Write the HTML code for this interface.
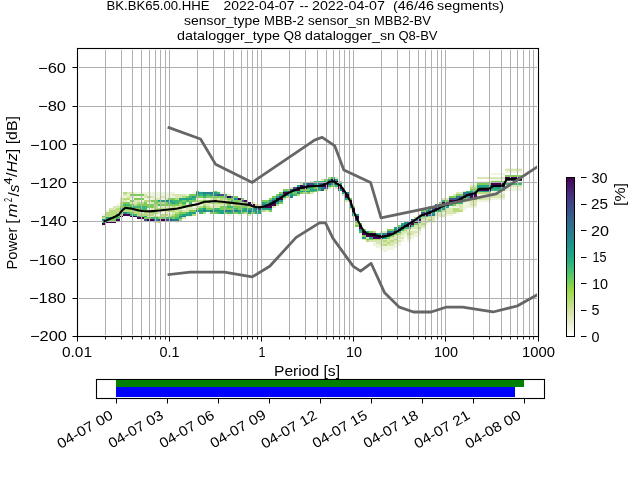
<!DOCTYPE html>
<html><head><meta charset="utf-8"><style>html,body{margin:0;padding:0;background:#fff;overflow:hidden}svg{display:block;will-change:transform}</style></head>
<body><svg width="640" height="480" viewBox="0 0 640 480"><g shape-rendering="crispEdges"><rect x="102" y="214" width="4" height="2" fill="#eef4dd"/><rect x="102" y="216" width="4" height="1" fill="#7ccd55"/><rect x="102" y="217" width="4" height="2" fill="#b6da7c"/><rect x="102" y="219" width="4" height="2" fill="#22a285"/><rect x="102" y="221" width="4" height="2" fill="#3db874"/><rect x="102" y="223" width="4" height="2" fill="#440154"/><rect x="102" y="225" width="4" height="2" fill="#eef4dd"/><rect x="106" y="210" width="3" height="2" fill="#eef4dd"/><rect x="106" y="212" width="3" height="2" fill="#b6da7c"/><rect x="106" y="214" width="3" height="2" fill="#b6da7c"/><rect x="106" y="216" width="3" height="1" fill="#b6da7c"/><rect x="106" y="217" width="3" height="2" fill="#22a285"/><rect x="106" y="219" width="3" height="2" fill="#7ccd55"/><rect x="106" y="221" width="3" height="2" fill="#440154"/><rect x="109" y="208" width="4" height="2" fill="#d8e8b0"/><rect x="109" y="210" width="4" height="2" fill="#b6da7c"/><rect x="109" y="212" width="4" height="2" fill="#b6da7c"/><rect x="109" y="214" width="4" height="2" fill="#b6da7c"/><rect x="109" y="216" width="4" height="1" fill="#b6da7c"/><rect x="109" y="217" width="4" height="2" fill="#22a285"/><rect x="109" y="219" width="4" height="2" fill="#7ccd55"/><rect x="109" y="221" width="4" height="2" fill="#440154"/><rect x="113" y="206" width="3" height="2" fill="#d8e8b0"/><rect x="113" y="208" width="3" height="2" fill="#d8e8b0"/><rect x="113" y="210" width="3" height="2" fill="#b6da7c"/><rect x="113" y="212" width="3" height="2" fill="#b6da7c"/><rect x="113" y="214" width="3" height="2" fill="#b6da7c"/><rect x="113" y="216" width="3" height="1" fill="#22a285"/><rect x="113" y="217" width="3" height="2" fill="#7ccd55"/><rect x="113" y="219" width="3" height="2" fill="#7ccd55"/><rect x="113" y="221" width="3" height="2" fill="#440154"/><rect x="116" y="204" width="4" height="2" fill="#eef4dd"/><rect x="116" y="206" width="4" height="2" fill="#d8e8b0"/><rect x="116" y="208" width="4" height="2" fill="#b6da7c"/><rect x="116" y="210" width="4" height="2" fill="#b6da7c"/><rect x="116" y="212" width="4" height="2" fill="#b6da7c"/><rect x="116" y="214" width="4" height="2" fill="#22a285"/><rect x="116" y="216" width="4" height="1" fill="#7ccd55"/><rect x="116" y="217" width="4" height="2" fill="#3db874"/><rect x="116" y="219" width="4" height="2" fill="#440154"/><rect x="120" y="196" width="3" height="2" fill="#eef4dd"/><rect x="120" y="198" width="3" height="2" fill="#d8e8b0"/><rect x="120" y="200" width="3" height="2" fill="#d8e8b0"/><rect x="120" y="202" width="3" height="2" fill="#b6da7c"/><rect x="120" y="204" width="3" height="2" fill="#b6da7c"/><rect x="120" y="206" width="3" height="2" fill="#7ccd55"/><rect x="120" y="208" width="3" height="2" fill="#3db874"/><rect x="120" y="210" width="3" height="2" fill="#b6da7c"/><rect x="120" y="212" width="3" height="2" fill="#b6da7c"/><rect x="120" y="214" width="3" height="2" fill="#b6da7c"/><rect x="120" y="216" width="3" height="1" fill="#440154"/><rect x="123" y="192" width="4" height="2" fill="#b6da7c"/><rect x="123" y="194" width="4" height="2" fill="#d8e8b0"/><rect x="123" y="196" width="4" height="2" fill="#eef4dd"/><rect x="123" y="198" width="4" height="2" fill="#b6da7c"/><rect x="123" y="200" width="4" height="2" fill="#d8e8b0"/><rect x="123" y="202" width="4" height="2" fill="#7ccd55"/><rect x="123" y="204" width="4" height="2" fill="#3db874"/><rect x="123" y="206" width="4" height="2" fill="#7ccd55"/><rect x="123" y="208" width="4" height="2" fill="#7ccd55"/><rect x="123" y="210" width="4" height="2" fill="#b6da7c"/><rect x="123" y="212" width="4" height="2" fill="#27808e"/><rect x="123" y="214" width="4" height="2" fill="#440154"/><rect x="127" y="192" width="3" height="2" fill="#d8e8b0"/><rect x="127" y="194" width="3" height="2" fill="#eef4dd"/><rect x="127" y="196" width="3" height="2" fill="#d8e8b0"/><rect x="127" y="198" width="3" height="2" fill="#b6da7c"/><rect x="127" y="200" width="3" height="2" fill="#eef4dd"/><rect x="127" y="202" width="3" height="2" fill="#7ccd55"/><rect x="127" y="204" width="3" height="2" fill="#3db874"/><rect x="127" y="206" width="3" height="2" fill="#7ccd55"/><rect x="127" y="208" width="3" height="2" fill="#7ccd55"/><rect x="127" y="210" width="3" height="2" fill="#b6da7c"/><rect x="127" y="212" width="3" height="2" fill="#3db874"/><rect x="127" y="214" width="3" height="2" fill="#440154"/><rect x="127" y="216" width="3" height="1" fill="#eef4dd"/><rect x="130" y="192" width="4" height="2" fill="#d8e8b0"/><rect x="130" y="194" width="4" height="2" fill="#7ccd55"/><rect x="130" y="196" width="4" height="2" fill="#d8e8b0"/><rect x="130" y="198" width="4" height="2" fill="#eef4dd"/><rect x="130" y="200" width="4" height="2" fill="#7ccd55"/><rect x="130" y="202" width="4" height="2" fill="#d8e8b0"/><rect x="130" y="204" width="4" height="2" fill="#7ccd55"/><rect x="130" y="206" width="4" height="2" fill="#3db874"/><rect x="130" y="208" width="4" height="2" fill="#7ccd55"/><rect x="130" y="210" width="4" height="2" fill="#b6da7c"/><rect x="130" y="212" width="4" height="2" fill="#7ccd55"/><rect x="130" y="214" width="4" height="2" fill="#22a285"/><rect x="130" y="216" width="4" height="1" fill="#440154"/><rect x="134" y="192" width="3" height="2" fill="#eef4dd"/><rect x="134" y="194" width="3" height="2" fill="#7ccd55"/><rect x="134" y="196" width="3" height="2" fill="#eef4dd"/><rect x="134" y="198" width="3" height="2" fill="#7ccd55"/><rect x="134" y="200" width="3" height="2" fill="#d8e8b0"/><rect x="134" y="202" width="3" height="2" fill="#d8e8b0"/><rect x="134" y="204" width="3" height="2" fill="#b6da7c"/><rect x="134" y="206" width="3" height="2" fill="#3db874"/><rect x="134" y="208" width="3" height="2" fill="#7ccd55"/><rect x="134" y="210" width="3" height="2" fill="#b6da7c"/><rect x="134" y="212" width="3" height="2" fill="#b6da7c"/><rect x="134" y="214" width="3" height="2" fill="#3db874"/><rect x="134" y="216" width="3" height="1" fill="#440154"/><rect x="137" y="192" width="3" height="2" fill="#eef4dd"/><rect x="137" y="194" width="3" height="2" fill="#7ccd55"/><rect x="137" y="196" width="3" height="2" fill="#eef4dd"/><rect x="137" y="198" width="3" height="2" fill="#7ccd55"/><rect x="137" y="200" width="3" height="2" fill="#d8e8b0"/><rect x="137" y="202" width="3" height="2" fill="#b6da7c"/><rect x="137" y="204" width="3" height="2" fill="#7ccd55"/><rect x="137" y="206" width="3" height="2" fill="#3db874"/><rect x="137" y="208" width="3" height="2" fill="#7ccd55"/><rect x="137" y="210" width="3" height="2" fill="#7ccd55"/><rect x="137" y="212" width="3" height="2" fill="#b6da7c"/><rect x="137" y="214" width="3" height="2" fill="#b6da7c"/><rect x="137" y="216" width="3" height="1" fill="#22a285"/><rect x="137" y="217" width="3" height="2" fill="#440154"/><rect x="140" y="192" width="4" height="2" fill="#eef4dd"/><rect x="140" y="194" width="4" height="2" fill="#7ccd55"/><rect x="140" y="196" width="4" height="2" fill="#eef4dd"/><rect x="140" y="198" width="4" height="2" fill="#7ccd55"/><rect x="140" y="200" width="4" height="2" fill="#eef4dd"/><rect x="140" y="202" width="4" height="2" fill="#b6da7c"/><rect x="140" y="204" width="4" height="2" fill="#7ccd55"/><rect x="140" y="206" width="4" height="2" fill="#3db874"/><rect x="140" y="208" width="4" height="2" fill="#3db874"/><rect x="140" y="210" width="4" height="2" fill="#7ccd55"/><rect x="140" y="212" width="4" height="2" fill="#d8e8b0"/><rect x="140" y="214" width="4" height="2" fill="#b6da7c"/><rect x="140" y="216" width="4" height="1" fill="#7ccd55"/><rect x="140" y="217" width="4" height="2" fill="#440154"/><rect x="140" y="219" width="4" height="2" fill="#eef4dd"/><rect x="144" y="192" width="3" height="2" fill="#eef4dd"/><rect x="144" y="194" width="3" height="2" fill="#d8e8b0"/><rect x="144" y="196" width="3" height="2" fill="#d8e8b0"/><rect x="144" y="198" width="3" height="2" fill="#eef4dd"/><rect x="144" y="200" width="3" height="2" fill="#b6da7c"/><rect x="144" y="202" width="3" height="2" fill="#7ccd55"/><rect x="144" y="204" width="3" height="2" fill="#7ccd55"/><rect x="144" y="206" width="3" height="2" fill="#3db874"/><rect x="144" y="208" width="3" height="2" fill="#3db874"/><rect x="144" y="210" width="3" height="2" fill="#7ccd55"/><rect x="144" y="212" width="3" height="2" fill="#b6da7c"/><rect x="144" y="214" width="3" height="2" fill="#b6da7c"/><rect x="144" y="216" width="3" height="1" fill="#22a285"/><rect x="144" y="217" width="3" height="2" fill="#7ccd55"/><rect x="144" y="219" width="3" height="2" fill="#3b5488"/><rect x="147" y="192" width="4" height="2" fill="#eef4dd"/><rect x="147" y="194" width="4" height="2" fill="#eef4dd"/><rect x="147" y="196" width="4" height="2" fill="#b6da7c"/><rect x="147" y="198" width="4" height="2" fill="#eef4dd"/><rect x="147" y="200" width="4" height="2" fill="#b6da7c"/><rect x="147" y="202" width="4" height="2" fill="#eef4dd"/><rect x="147" y="204" width="4" height="2" fill="#7ccd55"/><rect x="147" y="206" width="4" height="2" fill="#7ccd55"/><rect x="147" y="208" width="4" height="2" fill="#eef4dd"/><rect x="147" y="210" width="4" height="2" fill="#b6da7c"/><rect x="147" y="212" width="4" height="2" fill="#d8e8b0"/><rect x="147" y="214" width="4" height="2" fill="#b6da7c"/><rect x="147" y="216" width="4" height="1" fill="#d8e8b0"/><rect x="147" y="217" width="4" height="2" fill="#7ccd55"/><rect x="147" y="219" width="4" height="2" fill="#440154"/><rect x="151" y="192" width="3" height="2" fill="#eef4dd"/><rect x="151" y="194" width="3" height="2" fill="#eef4dd"/><rect x="151" y="196" width="3" height="2" fill="#d8e8b0"/><rect x="151" y="198" width="3" height="2" fill="#eef4dd"/><rect x="151" y="200" width="3" height="2" fill="#7ccd55"/><rect x="151" y="202" width="3" height="2" fill="#d8e8b0"/><rect x="151" y="204" width="3" height="2" fill="#7ccd55"/><rect x="151" y="206" width="3" height="2" fill="#7ccd55"/><rect x="151" y="208" width="3" height="2" fill="#d8e8b0"/><rect x="151" y="210" width="3" height="2" fill="#b6da7c"/><rect x="151" y="212" width="3" height="2" fill="#b6da7c"/><rect x="151" y="214" width="3" height="2" fill="#b6da7c"/><rect x="151" y="216" width="3" height="1" fill="#d8e8b0"/><rect x="151" y="217" width="3" height="2" fill="#3db874"/><rect x="151" y="219" width="3" height="2" fill="#440154"/><rect x="154" y="192" width="4" height="2" fill="#eef4dd"/><rect x="154" y="194" width="4" height="2" fill="#eef4dd"/><rect x="154" y="196" width="4" height="2" fill="#eef4dd"/><rect x="154" y="198" width="4" height="2" fill="#d8e8b0"/><rect x="154" y="200" width="4" height="2" fill="#7ccd55"/><rect x="154" y="202" width="4" height="2" fill="#7ccd55"/><rect x="154" y="204" width="4" height="2" fill="#b6da7c"/><rect x="154" y="206" width="4" height="2" fill="#b6da7c"/><rect x="154" y="208" width="4" height="2" fill="#b6da7c"/><rect x="154" y="210" width="4" height="2" fill="#d8e8b0"/><rect x="154" y="212" width="4" height="2" fill="#b6da7c"/><rect x="154" y="214" width="4" height="2" fill="#eef4dd"/><rect x="154" y="216" width="4" height="1" fill="#b6da7c"/><rect x="154" y="217" width="4" height="2" fill="#3db874"/><rect x="154" y="219" width="4" height="2" fill="#27808e"/><rect x="154" y="221" width="4" height="2" fill="#d8e8b0"/><rect x="158" y="192" width="3" height="2" fill="#eef4dd"/><rect x="158" y="194" width="3" height="2" fill="#eef4dd"/><rect x="158" y="196" width="3" height="2" fill="#eef4dd"/><rect x="158" y="198" width="3" height="2" fill="#d8e8b0"/><rect x="158" y="200" width="3" height="2" fill="#22a285"/><rect x="158" y="202" width="3" height="2" fill="#b6da7c"/><rect x="158" y="204" width="3" height="2" fill="#3db874"/><rect x="158" y="206" width="3" height="2" fill="#eef4dd"/><rect x="158" y="208" width="3" height="2" fill="#b6da7c"/><rect x="158" y="210" width="3" height="2" fill="#eef4dd"/><rect x="158" y="212" width="3" height="2" fill="#d8e8b0"/><rect x="158" y="214" width="3" height="2" fill="#eef4dd"/><rect x="158" y="216" width="3" height="1" fill="#d8e8b0"/><rect x="158" y="217" width="3" height="2" fill="#7ccd55"/><rect x="158" y="219" width="3" height="2" fill="#3b5488"/><rect x="158" y="221" width="3" height="2" fill="#b6da7c"/><rect x="161" y="192" width="4" height="2" fill="#eef4dd"/><rect x="161" y="194" width="4" height="2" fill="#eef4dd"/><rect x="161" y="196" width="4" height="2" fill="#d8e8b0"/><rect x="161" y="198" width="4" height="2" fill="#eef4dd"/><rect x="161" y="200" width="4" height="2" fill="#22a285"/><rect x="161" y="202" width="4" height="2" fill="#b6da7c"/><rect x="161" y="204" width="4" height="2" fill="#7ccd55"/><rect x="161" y="206" width="4" height="2" fill="#d8e8b0"/><rect x="161" y="208" width="4" height="2" fill="#b6da7c"/><rect x="161" y="210" width="4" height="2" fill="#d8e8b0"/><rect x="161" y="212" width="4" height="2" fill="#eef4dd"/><rect x="161" y="214" width="4" height="2" fill="#b6da7c"/><rect x="161" y="216" width="4" height="1" fill="#b6da7c"/><rect x="161" y="217" width="4" height="2" fill="#7ccd55"/><rect x="161" y="219" width="4" height="2" fill="#440154"/><rect x="165" y="192" width="3" height="2" fill="#eef4dd"/><rect x="165" y="194" width="3" height="2" fill="#eef4dd"/><rect x="165" y="196" width="3" height="2" fill="#eef4dd"/><rect x="165" y="198" width="3" height="2" fill="#d8e8b0"/><rect x="165" y="200" width="3" height="2" fill="#27808e"/><rect x="165" y="202" width="3" height="2" fill="#7ccd55"/><rect x="165" y="204" width="3" height="2" fill="#7ccd55"/><rect x="165" y="206" width="3" height="2" fill="#d8e8b0"/><rect x="165" y="208" width="3" height="2" fill="#b6da7c"/><rect x="165" y="210" width="3" height="2" fill="#d8e8b0"/><rect x="165" y="212" width="3" height="2" fill="#d8e8b0"/><rect x="165" y="214" width="3" height="2" fill="#b6da7c"/><rect x="165" y="216" width="3" height="1" fill="#d8e8b0"/><rect x="165" y="217" width="3" height="2" fill="#3db874"/><rect x="165" y="219" width="3" height="2" fill="#3b5488"/><rect x="168" y="192" width="4" height="2" fill="#eef4dd"/><rect x="168" y="194" width="4" height="2" fill="#eef4dd"/><rect x="168" y="196" width="4" height="2" fill="#eef4dd"/><rect x="168" y="198" width="4" height="2" fill="#7ccd55"/><rect x="168" y="200" width="4" height="2" fill="#22a285"/><rect x="168" y="202" width="4" height="2" fill="#3db874"/><rect x="168" y="204" width="4" height="2" fill="#7ccd55"/><rect x="168" y="206" width="4" height="2" fill="#d8e8b0"/><rect x="168" y="208" width="4" height="2" fill="#b6da7c"/><rect x="168" y="210" width="4" height="2" fill="#b6da7c"/><rect x="168" y="212" width="4" height="2" fill="#eef4dd"/><rect x="168" y="214" width="4" height="2" fill="#d8e8b0"/><rect x="168" y="216" width="4" height="1" fill="#b6da7c"/><rect x="168" y="217" width="4" height="2" fill="#3db874"/><rect x="168" y="219" width="4" height="2" fill="#3b5488"/><rect x="172" y="192" width="3" height="2" fill="#eef4dd"/><rect x="172" y="194" width="3" height="2" fill="#d8e8b0"/><rect x="172" y="196" width="3" height="2" fill="#eef4dd"/><rect x="172" y="198" width="3" height="2" fill="#7ccd55"/><rect x="172" y="200" width="3" height="2" fill="#3db874"/><rect x="172" y="202" width="3" height="2" fill="#22a285"/><rect x="172" y="204" width="3" height="2" fill="#7ccd55"/><rect x="172" y="206" width="3" height="2" fill="#b6da7c"/><rect x="172" y="208" width="3" height="2" fill="#b6da7c"/><rect x="172" y="210" width="3" height="2" fill="#b6da7c"/><rect x="172" y="212" width="3" height="2" fill="#d8e8b0"/><rect x="172" y="214" width="3" height="2" fill="#b6da7c"/><rect x="172" y="216" width="3" height="1" fill="#7ccd55"/><rect x="172" y="217" width="3" height="2" fill="#7ccd55"/><rect x="172" y="219" width="3" height="2" fill="#27808e"/><rect x="175" y="194" width="4" height="2" fill="#d8e8b0"/><rect x="175" y="196" width="4" height="2" fill="#d8e8b0"/><rect x="175" y="198" width="4" height="2" fill="#b6da7c"/><rect x="175" y="200" width="4" height="2" fill="#3db874"/><rect x="175" y="202" width="4" height="2" fill="#3db874"/><rect x="175" y="204" width="4" height="2" fill="#7ccd55"/><rect x="175" y="206" width="4" height="2" fill="#d8e8b0"/><rect x="175" y="208" width="4" height="2" fill="#b6da7c"/><rect x="175" y="210" width="4" height="2" fill="#d8e8b0"/><rect x="175" y="212" width="4" height="2" fill="#b6da7c"/><rect x="175" y="214" width="4" height="2" fill="#7ccd55"/><rect x="175" y="216" width="4" height="1" fill="#7ccd55"/><rect x="175" y="217" width="4" height="2" fill="#3db874"/><rect x="175" y="219" width="4" height="2" fill="#27808e"/><rect x="175" y="221" width="4" height="2" fill="#eef4dd"/><rect x="179" y="194" width="3" height="2" fill="#d8e8b0"/><rect x="179" y="196" width="3" height="2" fill="#d8e8b0"/><rect x="179" y="198" width="3" height="2" fill="#22a285"/><rect x="179" y="200" width="3" height="2" fill="#3db874"/><rect x="179" y="202" width="3" height="2" fill="#7ccd55"/><rect x="179" y="204" width="3" height="2" fill="#b6da7c"/><rect x="179" y="206" width="3" height="2" fill="#b6da7c"/><rect x="179" y="208" width="3" height="2" fill="#d8e8b0"/><rect x="179" y="210" width="3" height="2" fill="#b6da7c"/><rect x="179" y="212" width="3" height="2" fill="#7ccd55"/><rect x="179" y="214" width="3" height="2" fill="#3db874"/><rect x="179" y="216" width="3" height="1" fill="#27808e"/><rect x="179" y="217" width="3" height="2" fill="#3db874"/><rect x="179" y="219" width="3" height="2" fill="#b6da7c"/><rect x="182" y="194" width="4" height="2" fill="#d8e8b0"/><rect x="182" y="196" width="4" height="2" fill="#b6da7c"/><rect x="182" y="198" width="4" height="2" fill="#22a285"/><rect x="182" y="200" width="4" height="2" fill="#7ccd55"/><rect x="182" y="202" width="4" height="2" fill="#3db874"/><rect x="182" y="204" width="4" height="2" fill="#7ccd55"/><rect x="182" y="206" width="4" height="2" fill="#b6da7c"/><rect x="182" y="208" width="4" height="2" fill="#eef4dd"/><rect x="182" y="210" width="4" height="2" fill="#d8e8b0"/><rect x="182" y="212" width="4" height="2" fill="#7ccd55"/><rect x="182" y="214" width="4" height="2" fill="#22a285"/><rect x="182" y="216" width="4" height="1" fill="#27808e"/><rect x="182" y="217" width="4" height="2" fill="#d8e8b0"/><rect x="186" y="194" width="3" height="2" fill="#eef4dd"/><rect x="186" y="196" width="3" height="2" fill="#7ccd55"/><rect x="186" y="198" width="3" height="2" fill="#22a285"/><rect x="186" y="200" width="3" height="2" fill="#3db874"/><rect x="186" y="202" width="3" height="2" fill="#d8e8b0"/><rect x="186" y="204" width="3" height="2" fill="#eef4dd"/><rect x="186" y="206" width="3" height="2" fill="#b6da7c"/><rect x="186" y="208" width="3" height="2" fill="#d8e8b0"/><rect x="186" y="210" width="3" height="2" fill="#d8e8b0"/><rect x="186" y="212" width="3" height="2" fill="#3db874"/><rect x="186" y="214" width="3" height="2" fill="#22a285"/><rect x="186" y="216" width="3" height="1" fill="#eef4dd"/><rect x="189" y="194" width="3" height="2" fill="#7ccd55"/><rect x="189" y="196" width="3" height="2" fill="#3db874"/><rect x="189" y="198" width="3" height="2" fill="#22a285"/><rect x="189" y="200" width="3" height="2" fill="#7ccd55"/><rect x="189" y="202" width="3" height="2" fill="#3db874"/><rect x="189" y="204" width="3" height="2" fill="#b6da7c"/><rect x="189" y="206" width="3" height="2" fill="#d8e8b0"/><rect x="189" y="208" width="3" height="2" fill="#d8e8b0"/><rect x="189" y="210" width="3" height="2" fill="#7ccd55"/><rect x="189" y="212" width="3" height="2" fill="#22a285"/><rect x="189" y="214" width="3" height="2" fill="#22a285"/><rect x="189" y="216" width="3" height="1" fill="#eef4dd"/><rect x="192" y="192" width="4" height="2" fill="#eef4dd"/><rect x="192" y="194" width="4" height="2" fill="#7ccd55"/><rect x="192" y="196" width="4" height="2" fill="#22a285"/><rect x="192" y="198" width="4" height="2" fill="#3db874"/><rect x="192" y="200" width="4" height="2" fill="#7ccd55"/><rect x="192" y="202" width="4" height="2" fill="#eef4dd"/><rect x="192" y="204" width="4" height="2" fill="#b6da7c"/><rect x="192" y="206" width="4" height="2" fill="#eef4dd"/><rect x="192" y="208" width="4" height="2" fill="#d8e8b0"/><rect x="192" y="210" width="4" height="2" fill="#7ccd55"/><rect x="192" y="212" width="4" height="2" fill="#22a285"/><rect x="192" y="214" width="4" height="2" fill="#b6da7c"/><rect x="196" y="191" width="3" height="1" fill="#3db874"/><rect x="196" y="192" width="3" height="2" fill="#27808e"/><rect x="196" y="194" width="3" height="2" fill="#22a285"/><rect x="196" y="196" width="3" height="2" fill="#7ccd55"/><rect x="196" y="198" width="3" height="2" fill="#eef4dd"/><rect x="196" y="200" width="3" height="2" fill="#b6da7c"/><rect x="196" y="202" width="3" height="2" fill="#d8e8b0"/><rect x="196" y="204" width="3" height="2" fill="#d8e8b0"/><rect x="196" y="206" width="3" height="2" fill="#d8e8b0"/><rect x="196" y="208" width="3" height="2" fill="#7ccd55"/><rect x="196" y="210" width="3" height="2" fill="#27808e"/><rect x="199" y="191" width="4" height="1" fill="#eef4dd"/><rect x="199" y="192" width="4" height="2" fill="#22a285"/><rect x="199" y="194" width="4" height="2" fill="#3db874"/><rect x="199" y="196" width="4" height="2" fill="#7ccd55"/><rect x="199" y="198" width="4" height="2" fill="#eef4dd"/><rect x="199" y="200" width="4" height="2" fill="#b6da7c"/><rect x="199" y="202" width="4" height="2" fill="#d8e8b0"/><rect x="199" y="204" width="4" height="2" fill="#eef4dd"/><rect x="199" y="206" width="4" height="2" fill="#b6da7c"/><rect x="199" y="208" width="4" height="2" fill="#3db874"/><rect x="199" y="210" width="4" height="2" fill="#22a285"/><rect x="199" y="212" width="4" height="2" fill="#3db874"/><rect x="203" y="192" width="3" height="2" fill="#27808e"/><rect x="203" y="194" width="3" height="2" fill="#22a285"/><rect x="203" y="196" width="3" height="2" fill="#3db874"/><rect x="203" y="198" width="3" height="2" fill="#d8e8b0"/><rect x="203" y="200" width="3" height="2" fill="#7ccd55"/><rect x="203" y="202" width="3" height="2" fill="#d8e8b0"/><rect x="203" y="204" width="3" height="2" fill="#b6da7c"/><rect x="203" y="206" width="3" height="2" fill="#7ccd55"/><rect x="203" y="208" width="3" height="2" fill="#22a285"/><rect x="203" y="210" width="3" height="2" fill="#27808e"/><rect x="203" y="212" width="3" height="2" fill="#b6da7c"/><rect x="206" y="192" width="4" height="2" fill="#27808e"/><rect x="206" y="194" width="4" height="2" fill="#3db874"/><rect x="206" y="196" width="4" height="2" fill="#7ccd55"/><rect x="206" y="198" width="4" height="2" fill="#eef4dd"/><rect x="206" y="200" width="4" height="2" fill="#7ccd55"/><rect x="206" y="202" width="4" height="2" fill="#d8e8b0"/><rect x="206" y="204" width="4" height="2" fill="#d8e8b0"/><rect x="206" y="206" width="4" height="2" fill="#b6da7c"/><rect x="206" y="208" width="4" height="2" fill="#7ccd55"/><rect x="206" y="210" width="4" height="2" fill="#22a285"/><rect x="210" y="191" width="3" height="1" fill="#eef4dd"/><rect x="210" y="192" width="3" height="2" fill="#27808e"/><rect x="210" y="194" width="3" height="2" fill="#22a285"/><rect x="210" y="196" width="3" height="2" fill="#7ccd55"/><rect x="210" y="198" width="3" height="2" fill="#d8e8b0"/><rect x="210" y="200" width="3" height="2" fill="#d8e8b0"/><rect x="210" y="202" width="3" height="2" fill="#b6da7c"/><rect x="210" y="204" width="3" height="2" fill="#eef4dd"/><rect x="210" y="206" width="3" height="2" fill="#d8e8b0"/><rect x="210" y="208" width="3" height="2" fill="#7ccd55"/><rect x="210" y="210" width="3" height="2" fill="#27808e"/><rect x="210" y="212" width="3" height="2" fill="#7ccd55"/><rect x="213" y="191" width="4" height="1" fill="#7ccd55"/><rect x="213" y="192" width="4" height="2" fill="#22a285"/><rect x="213" y="194" width="4" height="2" fill="#27808e"/><rect x="213" y="196" width="4" height="2" fill="#7ccd55"/><rect x="213" y="198" width="4" height="2" fill="#b6da7c"/><rect x="213" y="200" width="4" height="2" fill="#eef4dd"/><rect x="213" y="202" width="4" height="2" fill="#b6da7c"/><rect x="213" y="204" width="4" height="2" fill="#d8e8b0"/><rect x="213" y="206" width="4" height="2" fill="#d8e8b0"/><rect x="213" y="208" width="4" height="2" fill="#3db874"/><rect x="213" y="210" width="4" height="2" fill="#22a285"/><rect x="213" y="212" width="4" height="2" fill="#7ccd55"/><rect x="217" y="191" width="3" height="1" fill="#eef4dd"/><rect x="217" y="192" width="3" height="2" fill="#3db874"/><rect x="217" y="194" width="3" height="2" fill="#3b5488"/><rect x="217" y="196" width="3" height="2" fill="#7ccd55"/><rect x="217" y="198" width="3" height="2" fill="#d8e8b0"/><rect x="217" y="200" width="3" height="2" fill="#d8e8b0"/><rect x="217" y="202" width="3" height="2" fill="#b6da7c"/><rect x="217" y="204" width="3" height="2" fill="#d8e8b0"/><rect x="217" y="206" width="3" height="2" fill="#d8e8b0"/><rect x="217" y="208" width="3" height="2" fill="#3db874"/><rect x="217" y="210" width="3" height="2" fill="#22a285"/><rect x="217" y="212" width="3" height="2" fill="#3db874"/><rect x="220" y="192" width="4" height="2" fill="#eef4dd"/><rect x="220" y="194" width="4" height="2" fill="#3b5488"/><rect x="220" y="196" width="4" height="2" fill="#7ccd55"/><rect x="220" y="198" width="4" height="2" fill="#b6da7c"/><rect x="220" y="200" width="4" height="2" fill="#d8e8b0"/><rect x="220" y="202" width="4" height="2" fill="#b6da7c"/><rect x="220" y="204" width="4" height="2" fill="#d8e8b0"/><rect x="220" y="206" width="4" height="2" fill="#7ccd55"/><rect x="220" y="208" width="4" height="2" fill="#7ccd55"/><rect x="220" y="210" width="4" height="2" fill="#22a285"/><rect x="220" y="212" width="4" height="2" fill="#22a285"/><rect x="224" y="192" width="3" height="2" fill="#eef4dd"/><rect x="224" y="194" width="3" height="2" fill="#3db874"/><rect x="224" y="196" width="3" height="2" fill="#3db874"/><rect x="224" y="198" width="3" height="2" fill="#b6da7c"/><rect x="224" y="200" width="3" height="2" fill="#d8e8b0"/><rect x="224" y="202" width="3" height="2" fill="#b6da7c"/><rect x="224" y="204" width="3" height="2" fill="#d8e8b0"/><rect x="224" y="206" width="3" height="2" fill="#7ccd55"/><rect x="224" y="208" width="3" height="2" fill="#7ccd55"/><rect x="224" y="210" width="3" height="2" fill="#27808e"/><rect x="224" y="212" width="3" height="2" fill="#7ccd55"/><rect x="227" y="194" width="4" height="2" fill="#d8e8b0"/><rect x="227" y="196" width="4" height="2" fill="#440154"/><rect x="227" y="198" width="4" height="2" fill="#7ccd55"/><rect x="227" y="200" width="4" height="2" fill="#b6da7c"/><rect x="227" y="202" width="4" height="2" fill="#b6da7c"/><rect x="227" y="204" width="4" height="2" fill="#7ccd55"/><rect x="227" y="206" width="4" height="2" fill="#3db874"/><rect x="227" y="208" width="4" height="2" fill="#7ccd55"/><rect x="227" y="210" width="4" height="2" fill="#27808e"/><rect x="227" y="212" width="4" height="2" fill="#3db874"/><rect x="227" y="214" width="4" height="2" fill="#eef4dd"/><rect x="231" y="196" width="3" height="2" fill="#27808e"/><rect x="231" y="198" width="3" height="2" fill="#7ccd55"/><rect x="231" y="200" width="3" height="2" fill="#3db874"/><rect x="231" y="202" width="3" height="2" fill="#b6da7c"/><rect x="231" y="204" width="3" height="2" fill="#d8e8b0"/><rect x="231" y="206" width="3" height="2" fill="#3db874"/><rect x="231" y="208" width="3" height="2" fill="#7ccd55"/><rect x="231" y="210" width="3" height="2" fill="#22a285"/><rect x="231" y="212" width="3" height="2" fill="#3db874"/><rect x="234" y="196" width="4" height="2" fill="#7ccd55"/><rect x="234" y="198" width="4" height="2" fill="#27808e"/><rect x="234" y="200" width="4" height="2" fill="#7ccd55"/><rect x="234" y="202" width="4" height="2" fill="#b6da7c"/><rect x="234" y="204" width="4" height="2" fill="#b6da7c"/><rect x="234" y="206" width="4" height="2" fill="#7ccd55"/><rect x="234" y="208" width="4" height="2" fill="#3db874"/><rect x="234" y="210" width="4" height="2" fill="#27808e"/><rect x="234" y="212" width="4" height="2" fill="#7ccd55"/><rect x="238" y="198" width="3" height="2" fill="#440154"/><rect x="238" y="200" width="3" height="2" fill="#7ccd55"/><rect x="238" y="202" width="3" height="2" fill="#b6da7c"/><rect x="238" y="204" width="3" height="2" fill="#b6da7c"/><rect x="238" y="206" width="3" height="2" fill="#7ccd55"/><rect x="238" y="208" width="3" height="2" fill="#7ccd55"/><rect x="238" y="210" width="3" height="2" fill="#22a285"/><rect x="238" y="212" width="3" height="2" fill="#3db874"/><rect x="238" y="214" width="3" height="2" fill="#eef4dd"/><rect x="241" y="198" width="3" height="2" fill="#7ccd55"/><rect x="241" y="200" width="3" height="2" fill="#3b5488"/><rect x="241" y="202" width="3" height="2" fill="#b6da7c"/><rect x="241" y="204" width="3" height="2" fill="#b6da7c"/><rect x="241" y="206" width="3" height="2" fill="#7ccd55"/><rect x="241" y="208" width="3" height="2" fill="#3db874"/><rect x="241" y="210" width="3" height="2" fill="#22a285"/><rect x="241" y="212" width="3" height="2" fill="#7ccd55"/><rect x="244" y="200" width="4" height="2" fill="#440154"/><rect x="244" y="202" width="4" height="2" fill="#7ccd55"/><rect x="244" y="204" width="4" height="2" fill="#b6da7c"/><rect x="244" y="206" width="4" height="2" fill="#7ccd55"/><rect x="244" y="208" width="4" height="2" fill="#22a285"/><rect x="244" y="210" width="4" height="2" fill="#22a285"/><rect x="244" y="212" width="4" height="2" fill="#b6da7c"/><rect x="248" y="202" width="3" height="2" fill="#440154"/><rect x="248" y="204" width="3" height="2" fill="#3db874"/><rect x="248" y="206" width="3" height="2" fill="#b6da7c"/><rect x="248" y="208" width="3" height="2" fill="#3db874"/><rect x="248" y="210" width="3" height="2" fill="#27808e"/><rect x="248" y="212" width="3" height="2" fill="#22a285"/><rect x="248" y="214" width="3" height="2" fill="#d8e8b0"/><rect x="251" y="202" width="4" height="2" fill="#d8e8b0"/><rect x="251" y="204" width="4" height="2" fill="#440154"/><rect x="251" y="206" width="4" height="2" fill="#b6da7c"/><rect x="251" y="208" width="4" height="2" fill="#22a285"/><rect x="251" y="210" width="4" height="2" fill="#22a285"/><rect x="251" y="212" width="4" height="2" fill="#7ccd55"/><rect x="255" y="204" width="3" height="2" fill="#b6da7c"/><rect x="255" y="206" width="3" height="2" fill="#440154"/><rect x="255" y="208" width="3" height="2" fill="#27808e"/><rect x="255" y="210" width="3" height="2" fill="#22a285"/><rect x="255" y="212" width="3" height="2" fill="#22a285"/><rect x="258" y="204" width="4" height="2" fill="#d8e8b0"/><rect x="258" y="206" width="4" height="2" fill="#440154"/><rect x="258" y="208" width="4" height="2" fill="#3b5488"/><rect x="258" y="210" width="4" height="2" fill="#22a285"/><rect x="258" y="212" width="4" height="2" fill="#22a285"/><rect x="262" y="200" width="3" height="2" fill="#7ccd55"/><rect x="262" y="202" width="3" height="2" fill="#22a285"/><rect x="262" y="204" width="3" height="2" fill="#27808e"/><rect x="262" y="206" width="3" height="2" fill="#3b5488"/><rect x="262" y="208" width="3" height="2" fill="#22a285"/><rect x="262" y="210" width="3" height="2" fill="#b6da7c"/><rect x="265" y="200" width="4" height="2" fill="#7ccd55"/><rect x="265" y="202" width="4" height="2" fill="#3db874"/><rect x="265" y="204" width="4" height="2" fill="#3b5488"/><rect x="265" y="206" width="4" height="2" fill="#440154"/><rect x="265" y="208" width="4" height="2" fill="#22a285"/><rect x="265" y="210" width="4" height="2" fill="#d8e8b0"/><rect x="269" y="198" width="3" height="2" fill="#7ccd55"/><rect x="269" y="200" width="3" height="2" fill="#22a285"/><rect x="269" y="202" width="3" height="2" fill="#27808e"/><rect x="269" y="204" width="3" height="2" fill="#440154"/><rect x="269" y="206" width="3" height="2" fill="#440154"/><rect x="269" y="208" width="3" height="2" fill="#22a285"/><rect x="269" y="210" width="3" height="2" fill="#7ccd55"/><rect x="272" y="196" width="4" height="2" fill="#7ccd55"/><rect x="272" y="198" width="4" height="2" fill="#22a285"/><rect x="272" y="200" width="4" height="2" fill="#3b5488"/><rect x="272" y="202" width="4" height="2" fill="#440154"/><rect x="272" y="204" width="4" height="2" fill="#440154"/><rect x="272" y="206" width="4" height="2" fill="#d8e8b0"/><rect x="276" y="194" width="3" height="2" fill="#7ccd55"/><rect x="276" y="196" width="3" height="2" fill="#22a285"/><rect x="276" y="198" width="3" height="2" fill="#440154"/><rect x="276" y="200" width="3" height="2" fill="#3b5488"/><rect x="276" y="202" width="3" height="2" fill="#22a285"/><rect x="276" y="204" width="3" height="2" fill="#b6da7c"/><rect x="279" y="192" width="4" height="2" fill="#7ccd55"/><rect x="279" y="194" width="4" height="2" fill="#22a285"/><rect x="279" y="196" width="4" height="2" fill="#3b5488"/><rect x="279" y="198" width="4" height="2" fill="#440154"/><rect x="279" y="200" width="4" height="2" fill="#22a285"/><rect x="279" y="202" width="4" height="2" fill="#7ccd55"/><rect x="283" y="189" width="3" height="2" fill="#7ccd55"/><rect x="283" y="191" width="3" height="1" fill="#22a285"/><rect x="283" y="192" width="3" height="2" fill="#440154"/><rect x="283" y="194" width="3" height="2" fill="#3b5488"/><rect x="283" y="196" width="3" height="2" fill="#3db874"/><rect x="283" y="198" width="3" height="2" fill="#d8e8b0"/><rect x="286" y="189" width="4" height="2" fill="#7ccd55"/><rect x="286" y="191" width="4" height="1" fill="#27808e"/><rect x="286" y="192" width="4" height="2" fill="#440154"/><rect x="286" y="194" width="4" height="2" fill="#22a285"/><rect x="286" y="196" width="4" height="2" fill="#b6da7c"/><rect x="290" y="187" width="3" height="2" fill="#d8e8b0"/><rect x="290" y="189" width="3" height="2" fill="#3b5488"/><rect x="290" y="191" width="3" height="1" fill="#440154"/><rect x="290" y="192" width="3" height="2" fill="#3db874"/><rect x="290" y="194" width="3" height="2" fill="#22a285"/><rect x="290" y="196" width="3" height="2" fill="#27808e"/><rect x="293" y="187" width="4" height="2" fill="#3b5488"/><rect x="293" y="189" width="4" height="2" fill="#440154"/><rect x="293" y="191" width="4" height="1" fill="#3db874"/><rect x="293" y="192" width="4" height="2" fill="#7ccd55"/><rect x="293" y="194" width="4" height="2" fill="#3db874"/><rect x="297" y="185" width="3" height="2" fill="#22a285"/><rect x="297" y="187" width="3" height="2" fill="#440154"/><rect x="297" y="189" width="3" height="2" fill="#440154"/><rect x="297" y="191" width="3" height="1" fill="#3db874"/><rect x="297" y="192" width="3" height="2" fill="#27808e"/><rect x="297" y="194" width="3" height="2" fill="#b6da7c"/><rect x="300" y="183" width="3" height="2" fill="#d8e8b0"/><rect x="300" y="185" width="3" height="2" fill="#440154"/><rect x="300" y="187" width="3" height="2" fill="#440154"/><rect x="300" y="189" width="3" height="2" fill="#7ccd55"/><rect x="300" y="191" width="3" height="1" fill="#22a285"/><rect x="300" y="192" width="3" height="2" fill="#7ccd55"/><rect x="303" y="183" width="4" height="2" fill="#22a285"/><rect x="303" y="185" width="4" height="2" fill="#3b5488"/><rect x="303" y="187" width="4" height="2" fill="#440154"/><rect x="303" y="189" width="4" height="2" fill="#7ccd55"/><rect x="303" y="191" width="4" height="1" fill="#22a285"/><rect x="303" y="192" width="4" height="2" fill="#b6da7c"/><rect x="307" y="183" width="3" height="2" fill="#3b5488"/><rect x="307" y="185" width="3" height="2" fill="#440154"/><rect x="307" y="187" width="3" height="2" fill="#3db874"/><rect x="307" y="189" width="3" height="2" fill="#7ccd55"/><rect x="307" y="191" width="3" height="1" fill="#22a285"/><rect x="307" y="192" width="3" height="2" fill="#7ccd55"/><rect x="310" y="181" width="4" height="2" fill="#d8e8b0"/><rect x="310" y="183" width="4" height="2" fill="#3b5488"/><rect x="310" y="185" width="4" height="2" fill="#440154"/><rect x="310" y="187" width="4" height="2" fill="#3db874"/><rect x="310" y="189" width="4" height="2" fill="#22a285"/><rect x="310" y="191" width="4" height="1" fill="#3db874"/><rect x="310" y="192" width="4" height="2" fill="#d8e8b0"/><rect x="314" y="181" width="3" height="2" fill="#3db874"/><rect x="314" y="183" width="3" height="2" fill="#22a285"/><rect x="314" y="185" width="3" height="2" fill="#440154"/><rect x="314" y="187" width="3" height="2" fill="#7ccd55"/><rect x="314" y="189" width="3" height="2" fill="#22a285"/><rect x="314" y="191" width="3" height="1" fill="#7ccd55"/><rect x="317" y="181" width="4" height="2" fill="#3db874"/><rect x="317" y="183" width="4" height="2" fill="#27808e"/><rect x="317" y="185" width="4" height="2" fill="#440154"/><rect x="317" y="187" width="4" height="2" fill="#22a285"/><rect x="317" y="189" width="4" height="2" fill="#3db874"/><rect x="317" y="191" width="4" height="1" fill="#eef4dd"/><rect x="321" y="179" width="3" height="2" fill="#d8e8b0"/><rect x="321" y="181" width="3" height="2" fill="#3db874"/><rect x="321" y="183" width="3" height="2" fill="#3b5488"/><rect x="321" y="185" width="3" height="2" fill="#440154"/><rect x="321" y="187" width="3" height="2" fill="#27808e"/><rect x="321" y="189" width="3" height="2" fill="#3b5488"/><rect x="324" y="179" width="4" height="2" fill="#7ccd55"/><rect x="324" y="181" width="4" height="2" fill="#22a285"/><rect x="324" y="183" width="4" height="2" fill="#440154"/><rect x="324" y="185" width="4" height="2" fill="#440154"/><rect x="324" y="187" width="4" height="2" fill="#3b5488"/><rect x="324" y="189" width="4" height="2" fill="#d8e8b0"/><rect x="328" y="177" width="3" height="2" fill="#b6da7c"/><rect x="328" y="179" width="3" height="2" fill="#22a285"/><rect x="328" y="181" width="3" height="2" fill="#440154"/><rect x="328" y="183" width="3" height="2" fill="#3b5488"/><rect x="328" y="185" width="3" height="2" fill="#3db874"/><rect x="328" y="187" width="3" height="2" fill="#d8e8b0"/><rect x="331" y="177" width="4" height="2" fill="#3db874"/><rect x="331" y="179" width="4" height="2" fill="#440154"/><rect x="331" y="181" width="4" height="2" fill="#440154"/><rect x="331" y="183" width="4" height="2" fill="#22a285"/><rect x="331" y="185" width="4" height="2" fill="#7ccd55"/><rect x="335" y="177" width="3" height="2" fill="#d8e8b0"/><rect x="335" y="179" width="3" height="2" fill="#22a285"/><rect x="335" y="181" width="3" height="2" fill="#440154"/><rect x="335" y="183" width="3" height="2" fill="#3b5488"/><rect x="335" y="185" width="3" height="2" fill="#3db874"/><rect x="335" y="187" width="3" height="2" fill="#d8e8b0"/><rect x="338" y="181" width="4" height="2" fill="#b6da7c"/><rect x="338" y="183" width="4" height="2" fill="#22a285"/><rect x="338" y="185" width="4" height="2" fill="#440154"/><rect x="338" y="187" width="4" height="2" fill="#440154"/><rect x="338" y="189" width="4" height="2" fill="#27808e"/><rect x="338" y="191" width="4" height="1" fill="#eef4dd"/><rect x="342" y="187" width="3" height="2" fill="#d8e8b0"/><rect x="342" y="189" width="3" height="2" fill="#440154"/><rect x="342" y="191" width="3" height="1" fill="#440154"/><rect x="342" y="192" width="3" height="2" fill="#22a285"/><rect x="342" y="194" width="3" height="2" fill="#d8e8b0"/><rect x="345" y="192" width="4" height="2" fill="#27808e"/><rect x="345" y="194" width="4" height="2" fill="#440154"/><rect x="345" y="196" width="4" height="2" fill="#440154"/><rect x="345" y="198" width="4" height="2" fill="#22a285"/><rect x="345" y="200" width="4" height="2" fill="#d8e8b0"/><rect x="349" y="198" width="3" height="2" fill="#7ccd55"/><rect x="349" y="200" width="3" height="2" fill="#440154"/><rect x="349" y="202" width="3" height="2" fill="#440154"/><rect x="349" y="204" width="3" height="2" fill="#3b5488"/><rect x="349" y="206" width="3" height="2" fill="#22a285"/><rect x="349" y="208" width="3" height="2" fill="#d8e8b0"/><rect x="352" y="206" width="3" height="2" fill="#7ccd55"/><rect x="352" y="208" width="3" height="2" fill="#440154"/><rect x="352" y="210" width="3" height="2" fill="#440154"/><rect x="352" y="212" width="3" height="2" fill="#22a285"/><rect x="352" y="214" width="3" height="2" fill="#22a285"/><rect x="352" y="216" width="3" height="1" fill="#d8e8b0"/><rect x="355" y="214" width="4" height="2" fill="#22a285"/><rect x="355" y="216" width="4" height="1" fill="#440154"/><rect x="355" y="217" width="4" height="2" fill="#440154"/><rect x="355" y="219" width="4" height="2" fill="#3b5488"/><rect x="355" y="221" width="4" height="2" fill="#7ccd55"/><rect x="355" y="223" width="4" height="2" fill="#b6da7c"/><rect x="355" y="225" width="4" height="2" fill="#7ccd55"/><rect x="359" y="223" width="3" height="2" fill="#7ccd55"/><rect x="359" y="225" width="3" height="2" fill="#440154"/><rect x="359" y="227" width="3" height="2" fill="#440154"/><rect x="359" y="229" width="3" height="2" fill="#22a285"/><rect x="359" y="231" width="3" height="2" fill="#3db874"/><rect x="359" y="233" width="3" height="2" fill="#eef4dd"/><rect x="362" y="229" width="4" height="2" fill="#7ccd55"/><rect x="362" y="231" width="4" height="2" fill="#440154"/><rect x="362" y="233" width="4" height="2" fill="#440154"/><rect x="362" y="235" width="4" height="2" fill="#7ccd55"/><rect x="362" y="237" width="4" height="2" fill="#22a285"/><rect x="362" y="239" width="4" height="1" fill="#d8e8b0"/><rect x="366" y="231" width="3" height="2" fill="#22a285"/><rect x="366" y="233" width="3" height="2" fill="#440154"/><rect x="366" y="235" width="3" height="2" fill="#440154"/><rect x="366" y="237" width="3" height="2" fill="#d8e8b0"/><rect x="366" y="239" width="3" height="1" fill="#7ccd55"/><rect x="366" y="240" width="3" height="2" fill="#b6da7c"/><rect x="369" y="231" width="4" height="2" fill="#7ccd55"/><rect x="369" y="233" width="4" height="2" fill="#440154"/><rect x="369" y="235" width="4" height="2" fill="#440154"/><rect x="369" y="237" width="4" height="2" fill="#22a285"/><rect x="369" y="239" width="4" height="1" fill="#7ccd55"/><rect x="369" y="240" width="4" height="2" fill="#d8e8b0"/><rect x="373" y="231" width="3" height="2" fill="#b6da7c"/><rect x="373" y="233" width="3" height="2" fill="#440154"/><rect x="373" y="235" width="3" height="2" fill="#440154"/><rect x="373" y="237" width="3" height="2" fill="#440154"/><rect x="373" y="239" width="3" height="1" fill="#b6da7c"/><rect x="373" y="240" width="3" height="2" fill="#d8e8b0"/><rect x="373" y="242" width="3" height="2" fill="#eef4dd"/><rect x="373" y="244" width="3" height="2" fill="#eef4dd"/><rect x="376" y="233" width="4" height="2" fill="#22a285"/><rect x="376" y="235" width="4" height="2" fill="#440154"/><rect x="376" y="237" width="4" height="2" fill="#440154"/><rect x="376" y="239" width="4" height="1" fill="#b6da7c"/><rect x="376" y="240" width="4" height="2" fill="#d8e8b0"/><rect x="376" y="242" width="4" height="2" fill="#d8e8b0"/><rect x="376" y="244" width="4" height="2" fill="#eef4dd"/><rect x="376" y="246" width="4" height="2" fill="#eef4dd"/><rect x="380" y="231" width="3" height="2" fill="#d8e8b0"/><rect x="380" y="233" width="3" height="2" fill="#22a285"/><rect x="380" y="235" width="3" height="2" fill="#440154"/><rect x="380" y="237" width="3" height="2" fill="#3b5488"/><rect x="380" y="239" width="3" height="1" fill="#b6da7c"/><rect x="380" y="240" width="3" height="2" fill="#d8e8b0"/><rect x="380" y="242" width="3" height="2" fill="#d8e8b0"/><rect x="380" y="244" width="3" height="2" fill="#d8e8b0"/><rect x="380" y="246" width="3" height="2" fill="#eef4dd"/><rect x="380" y="248" width="3" height="2" fill="#eef4dd"/><rect x="383" y="231" width="4" height="2" fill="#d8e8b0"/><rect x="383" y="233" width="4" height="2" fill="#27808e"/><rect x="383" y="235" width="4" height="2" fill="#440154"/><rect x="383" y="237" width="4" height="2" fill="#22a285"/><rect x="383" y="239" width="4" height="1" fill="#d8e8b0"/><rect x="383" y="240" width="4" height="2" fill="#b6da7c"/><rect x="383" y="242" width="4" height="2" fill="#d8e8b0"/><rect x="383" y="244" width="4" height="2" fill="#b6da7c"/><rect x="383" y="246" width="4" height="2" fill="#eef4dd"/><rect x="383" y="248" width="4" height="2" fill="#eef4dd"/><rect x="383" y="250" width="4" height="2" fill="#eef4dd"/><rect x="387" y="229" width="3" height="2" fill="#7ccd55"/><rect x="387" y="231" width="3" height="2" fill="#27808e"/><rect x="387" y="233" width="3" height="2" fill="#440154"/><rect x="387" y="235" width="3" height="2" fill="#3db874"/><rect x="387" y="237" width="3" height="2" fill="#7ccd55"/><rect x="387" y="239" width="3" height="1" fill="#d8e8b0"/><rect x="387" y="240" width="3" height="2" fill="#d8e8b0"/><rect x="387" y="242" width="3" height="2" fill="#b6da7c"/><rect x="387" y="244" width="3" height="2" fill="#d8e8b0"/><rect x="387" y="246" width="3" height="2" fill="#eef4dd"/><rect x="387" y="248" width="3" height="2" fill="#eef4dd"/><rect x="390" y="229" width="4" height="2" fill="#7ccd55"/><rect x="390" y="231" width="4" height="2" fill="#27808e"/><rect x="390" y="233" width="4" height="2" fill="#440154"/><rect x="390" y="235" width="4" height="2" fill="#7ccd55"/><rect x="390" y="237" width="4" height="2" fill="#d8e8b0"/><rect x="390" y="239" width="4" height="1" fill="#d8e8b0"/><rect x="390" y="240" width="4" height="2" fill="#b6da7c"/><rect x="390" y="242" width="4" height="2" fill="#d8e8b0"/><rect x="390" y="244" width="4" height="2" fill="#d8e8b0"/><rect x="390" y="246" width="4" height="2" fill="#eef4dd"/><rect x="390" y="248" width="4" height="2" fill="#eef4dd"/><rect x="394" y="227" width="3" height="2" fill="#22a285"/><rect x="394" y="229" width="3" height="2" fill="#27808e"/><rect x="394" y="231" width="3" height="2" fill="#440154"/><rect x="394" y="233" width="3" height="2" fill="#7ccd55"/><rect x="394" y="235" width="3" height="2" fill="#d8e8b0"/><rect x="394" y="237" width="3" height="2" fill="#d8e8b0"/><rect x="394" y="239" width="3" height="1" fill="#b6da7c"/><rect x="394" y="240" width="3" height="2" fill="#d8e8b0"/><rect x="394" y="242" width="3" height="2" fill="#d8e8b0"/><rect x="394" y="244" width="3" height="2" fill="#eef4dd"/><rect x="394" y="246" width="3" height="2" fill="#eef4dd"/><rect x="397" y="225" width="4" height="2" fill="#7ccd55"/><rect x="397" y="227" width="4" height="2" fill="#27808e"/><rect x="397" y="229" width="4" height="2" fill="#440154"/><rect x="397" y="231" width="4" height="2" fill="#3db874"/><rect x="397" y="233" width="4" height="2" fill="#b6da7c"/><rect x="397" y="235" width="4" height="2" fill="#d8e8b0"/><rect x="397" y="237" width="4" height="2" fill="#d8e8b0"/><rect x="397" y="239" width="4" height="1" fill="#eef4dd"/><rect x="397" y="240" width="4" height="2" fill="#d8e8b0"/><rect x="397" y="242" width="4" height="2" fill="#eef4dd"/><rect x="397" y="244" width="4" height="2" fill="#eef4dd"/><rect x="401" y="223" width="3" height="2" fill="#22a285"/><rect x="401" y="225" width="3" height="2" fill="#27808e"/><rect x="401" y="227" width="3" height="2" fill="#440154"/><rect x="401" y="229" width="3" height="2" fill="#3db874"/><rect x="401" y="231" width="3" height="2" fill="#d8e8b0"/><rect x="401" y="233" width="3" height="2" fill="#d8e8b0"/><rect x="401" y="235" width="3" height="2" fill="#eef4dd"/><rect x="401" y="237" width="3" height="2" fill="#d8e8b0"/><rect x="401" y="239" width="3" height="1" fill="#eef4dd"/><rect x="401" y="240" width="3" height="2" fill="#eef4dd"/><rect x="404" y="221" width="3" height="2" fill="#22a285"/><rect x="404" y="223" width="3" height="2" fill="#27808e"/><rect x="404" y="225" width="3" height="2" fill="#440154"/><rect x="404" y="227" width="3" height="2" fill="#3db874"/><rect x="404" y="229" width="3" height="2" fill="#b6da7c"/><rect x="404" y="231" width="3" height="2" fill="#d8e8b0"/><rect x="404" y="233" width="3" height="2" fill="#eef4dd"/><rect x="404" y="235" width="3" height="2" fill="#eef4dd"/><rect x="407" y="221" width="4" height="2" fill="#27808e"/><rect x="407" y="223" width="4" height="2" fill="#27808e"/><rect x="407" y="225" width="4" height="2" fill="#440154"/><rect x="407" y="227" width="4" height="2" fill="#3db874"/><rect x="407" y="229" width="4" height="2" fill="#d8e8b0"/><rect x="407" y="231" width="4" height="2" fill="#d8e8b0"/><rect x="407" y="233" width="4" height="2" fill="#b6da7c"/><rect x="407" y="235" width="4" height="2" fill="#d8e8b0"/><rect x="407" y="237" width="4" height="2" fill="#d8e8b0"/><rect x="407" y="239" width="4" height="1" fill="#eef4dd"/><rect x="407" y="240" width="4" height="2" fill="#eef4dd"/><rect x="411" y="219" width="3" height="2" fill="#3b5488"/><rect x="411" y="221" width="3" height="2" fill="#27808e"/><rect x="411" y="223" width="3" height="2" fill="#440154"/><rect x="411" y="225" width="3" height="2" fill="#3db874"/><rect x="411" y="227" width="3" height="2" fill="#d8e8b0"/><rect x="411" y="229" width="3" height="2" fill="#eef4dd"/><rect x="411" y="231" width="3" height="2" fill="#d8e8b0"/><rect x="411" y="233" width="3" height="2" fill="#d8e8b0"/><rect x="411" y="235" width="3" height="2" fill="#eef4dd"/><rect x="411" y="237" width="3" height="2" fill="#eef4dd"/><rect x="414" y="217" width="4" height="2" fill="#b6da7c"/><rect x="414" y="219" width="4" height="2" fill="#27808e"/><rect x="414" y="221" width="4" height="2" fill="#440154"/><rect x="414" y="223" width="4" height="2" fill="#7ccd55"/><rect x="414" y="225" width="4" height="2" fill="#d8e8b0"/><rect x="414" y="227" width="4" height="2" fill="#d8e8b0"/><rect x="414" y="229" width="4" height="2" fill="#eef4dd"/><rect x="414" y="231" width="4" height="2" fill="#d8e8b0"/><rect x="414" y="233" width="4" height="2" fill="#eef4dd"/><rect x="414" y="235" width="4" height="2" fill="#eef4dd"/><rect x="418" y="214" width="3" height="2" fill="#d8e8b0"/><rect x="418" y="216" width="3" height="1" fill="#7ccd55"/><rect x="418" y="217" width="3" height="2" fill="#27808e"/><rect x="418" y="219" width="3" height="2" fill="#440154"/><rect x="418" y="221" width="3" height="2" fill="#22a285"/><rect x="418" y="223" width="3" height="2" fill="#d8e8b0"/><rect x="418" y="225" width="3" height="2" fill="#d8e8b0"/><rect x="418" y="227" width="3" height="2" fill="#b6da7c"/><rect x="418" y="229" width="3" height="2" fill="#d8e8b0"/><rect x="418" y="231" width="3" height="2" fill="#eef4dd"/><rect x="418" y="233" width="3" height="2" fill="#eef4dd"/><rect x="421" y="210" width="4" height="2" fill="#7ccd55"/><rect x="421" y="212" width="4" height="2" fill="#3b5488"/><rect x="421" y="214" width="4" height="2" fill="#440154"/><rect x="421" y="216" width="4" height="1" fill="#3db874"/><rect x="421" y="217" width="4" height="2" fill="#b6da7c"/><rect x="421" y="219" width="4" height="2" fill="#d8e8b0"/><rect x="421" y="221" width="4" height="2" fill="#d8e8b0"/><rect x="421" y="223" width="4" height="2" fill="#b6da7c"/><rect x="421" y="225" width="4" height="2" fill="#d8e8b0"/><rect x="421" y="227" width="4" height="2" fill="#eef4dd"/><rect x="425" y="210" width="3" height="2" fill="#22a285"/><rect x="425" y="212" width="3" height="2" fill="#27808e"/><rect x="425" y="214" width="3" height="2" fill="#440154"/><rect x="425" y="216" width="3" height="1" fill="#22a285"/><rect x="425" y="217" width="3" height="2" fill="#d8e8b0"/><rect x="425" y="219" width="3" height="2" fill="#d8e8b0"/><rect x="425" y="221" width="3" height="2" fill="#d8e8b0"/><rect x="425" y="223" width="3" height="2" fill="#eef4dd"/><rect x="428" y="206" width="4" height="2" fill="#b6da7c"/><rect x="428" y="208" width="4" height="2" fill="#3db874"/><rect x="428" y="210" width="4" height="2" fill="#27808e"/><rect x="428" y="212" width="4" height="2" fill="#440154"/><rect x="428" y="214" width="4" height="2" fill="#27808e"/><rect x="428" y="216" width="4" height="1" fill="#b6da7c"/><rect x="428" y="217" width="4" height="2" fill="#d8e8b0"/><rect x="428" y="219" width="4" height="2" fill="#b6da7c"/><rect x="428" y="221" width="4" height="2" fill="#eef4dd"/><rect x="432" y="206" width="3" height="2" fill="#d8e8b0"/><rect x="432" y="208" width="3" height="2" fill="#3b5488"/><rect x="432" y="210" width="3" height="2" fill="#440154"/><rect x="432" y="212" width="3" height="2" fill="#22a285"/><rect x="432" y="214" width="3" height="2" fill="#27808e"/><rect x="432" y="216" width="3" height="1" fill="#d8e8b0"/><rect x="432" y="217" width="3" height="2" fill="#d8e8b0"/><rect x="432" y="219" width="3" height="2" fill="#d8e8b0"/><rect x="432" y="221" width="3" height="2" fill="#eef4dd"/><rect x="435" y="204" width="4" height="2" fill="#27808e"/><rect x="435" y="206" width="4" height="2" fill="#27808e"/><rect x="435" y="208" width="4" height="2" fill="#440154"/><rect x="435" y="210" width="4" height="2" fill="#22a285"/><rect x="435" y="212" width="4" height="2" fill="#d8e8b0"/><rect x="435" y="214" width="4" height="2" fill="#d8e8b0"/><rect x="435" y="216" width="4" height="1" fill="#eef4dd"/><rect x="435" y="217" width="4" height="2" fill="#eef4dd"/><rect x="439" y="202" width="3" height="2" fill="#7ccd55"/><rect x="439" y="204" width="3" height="2" fill="#27808e"/><rect x="439" y="206" width="3" height="2" fill="#440154"/><rect x="439" y="208" width="3" height="2" fill="#22a285"/><rect x="439" y="210" width="3" height="2" fill="#3db874"/><rect x="439" y="212" width="3" height="2" fill="#d8e8b0"/><rect x="439" y="214" width="3" height="2" fill="#d8e8b0"/><rect x="439" y="216" width="3" height="1" fill="#d8e8b0"/><rect x="442" y="198" width="4" height="2" fill="#d8e8b0"/><rect x="442" y="200" width="4" height="2" fill="#3db874"/><rect x="442" y="202" width="4" height="2" fill="#440154"/><rect x="442" y="204" width="4" height="2" fill="#440154"/><rect x="442" y="206" width="4" height="2" fill="#22a285"/><rect x="442" y="208" width="4" height="2" fill="#22a285"/><rect x="442" y="210" width="4" height="2" fill="#b6da7c"/><rect x="442" y="212" width="4" height="2" fill="#eef4dd"/><rect x="442" y="214" width="4" height="2" fill="#d8e8b0"/><rect x="442" y="216" width="4" height="1" fill="#d8e8b0"/><rect x="446" y="198" width="3" height="2" fill="#d8e8b0"/><rect x="446" y="200" width="3" height="2" fill="#7ccd55"/><rect x="446" y="202" width="3" height="2" fill="#3b5488"/><rect x="446" y="204" width="3" height="2" fill="#440154"/><rect x="446" y="206" width="3" height="2" fill="#22a285"/><rect x="446" y="208" width="3" height="2" fill="#d8e8b0"/><rect x="446" y="210" width="3" height="2" fill="#d8e8b0"/><rect x="446" y="212" width="3" height="2" fill="#d8e8b0"/><rect x="446" y="214" width="3" height="2" fill="#eef4dd"/><rect x="449" y="196" width="4" height="2" fill="#7ccd55"/><rect x="449" y="198" width="4" height="2" fill="#3b5488"/><rect x="449" y="200" width="4" height="2" fill="#440154"/><rect x="449" y="202" width="4" height="2" fill="#3db874"/><rect x="449" y="204" width="4" height="2" fill="#3db874"/><rect x="449" y="206" width="4" height="2" fill="#eef4dd"/><rect x="449" y="208" width="4" height="2" fill="#d8e8b0"/><rect x="449" y="210" width="4" height="2" fill="#d8e8b0"/><rect x="449" y="212" width="4" height="2" fill="#d8e8b0"/><rect x="449" y="214" width="4" height="2" fill="#eef4dd"/><rect x="453" y="194" width="3" height="2" fill="#d8e8b0"/><rect x="453" y="196" width="3" height="2" fill="#7ccd55"/><rect x="453" y="198" width="3" height="2" fill="#3b5488"/><rect x="453" y="200" width="3" height="2" fill="#440154"/><rect x="453" y="202" width="3" height="2" fill="#3db874"/><rect x="453" y="204" width="3" height="2" fill="#7ccd55"/><rect x="453" y="206" width="3" height="2" fill="#eef4dd"/><rect x="453" y="208" width="3" height="2" fill="#b6da7c"/><rect x="453" y="210" width="3" height="2" fill="#b6da7c"/><rect x="453" y="212" width="3" height="2" fill="#d8e8b0"/><rect x="456" y="192" width="3" height="2" fill="#d8e8b0"/><rect x="456" y="194" width="3" height="2" fill="#7ccd55"/><rect x="456" y="196" width="3" height="2" fill="#27808e"/><rect x="456" y="198" width="3" height="2" fill="#3b5488"/><rect x="456" y="200" width="3" height="2" fill="#440154"/><rect x="456" y="202" width="3" height="2" fill="#3db874"/><rect x="456" y="204" width="3" height="2" fill="#d8e8b0"/><rect x="456" y="206" width="3" height="2" fill="#eef4dd"/><rect x="456" y="208" width="3" height="2" fill="#b6da7c"/><rect x="456" y="210" width="3" height="2" fill="#b6da7c"/><rect x="456" y="212" width="3" height="2" fill="#eef4dd"/><rect x="459" y="192" width="4" height="2" fill="#d8e8b0"/><rect x="459" y="194" width="4" height="2" fill="#7ccd55"/><rect x="459" y="196" width="4" height="2" fill="#3b5488"/><rect x="459" y="198" width="4" height="2" fill="#440154"/><rect x="459" y="200" width="4" height="2" fill="#7ccd55"/><rect x="459" y="202" width="4" height="2" fill="#3db874"/><rect x="459" y="204" width="4" height="2" fill="#d8e8b0"/><rect x="459" y="206" width="4" height="2" fill="#d8e8b0"/><rect x="459" y="208" width="4" height="2" fill="#d8e8b0"/><rect x="459" y="210" width="4" height="2" fill="#b6da7c"/><rect x="463" y="191" width="3" height="1" fill="#d8e8b0"/><rect x="463" y="192" width="3" height="2" fill="#27808e"/><rect x="463" y="194" width="3" height="2" fill="#3b5488"/><rect x="463" y="196" width="3" height="2" fill="#440154"/><rect x="463" y="198" width="3" height="2" fill="#7ccd55"/><rect x="463" y="200" width="3" height="2" fill="#d8e8b0"/><rect x="463" y="202" width="3" height="2" fill="#eef4dd"/><rect x="463" y="204" width="3" height="2" fill="#eef4dd"/><rect x="463" y="206" width="3" height="2" fill="#eef4dd"/><rect x="463" y="208" width="3" height="2" fill="#eef4dd"/><rect x="466" y="191" width="4" height="1" fill="#3db874"/><rect x="466" y="192" width="4" height="2" fill="#27808e"/><rect x="466" y="194" width="4" height="2" fill="#440154"/><rect x="466" y="196" width="4" height="2" fill="#22a285"/><rect x="466" y="198" width="4" height="2" fill="#d8e8b0"/><rect x="466" y="200" width="4" height="2" fill="#d8e8b0"/><rect x="466" y="202" width="4" height="2" fill="#eef4dd"/><rect x="466" y="204" width="4" height="2" fill="#eef4dd"/><rect x="466" y="206" width="4" height="2" fill="#eef4dd"/><rect x="470" y="183" width="3" height="2" fill="#eef4dd"/><rect x="470" y="185" width="3" height="2" fill="#d8e8b0"/><rect x="470" y="187" width="3" height="2" fill="#b6da7c"/><rect x="470" y="189" width="3" height="2" fill="#7ccd55"/><rect x="470" y="191" width="3" height="1" fill="#22a285"/><rect x="470" y="192" width="3" height="2" fill="#27808e"/><rect x="470" y="194" width="3" height="2" fill="#440154"/><rect x="470" y="196" width="3" height="2" fill="#440154"/><rect x="470" y="198" width="3" height="2" fill="#7ccd55"/><rect x="470" y="200" width="3" height="2" fill="#d8e8b0"/><rect x="470" y="202" width="3" height="2" fill="#d8e8b0"/><rect x="470" y="204" width="3" height="2" fill="#d8e8b0"/><rect x="470" y="206" width="3" height="2" fill="#eef4dd"/><rect x="473" y="183" width="4" height="2" fill="#eef4dd"/><rect x="473" y="185" width="4" height="2" fill="#d8e8b0"/><rect x="473" y="187" width="4" height="2" fill="#b6da7c"/><rect x="473" y="189" width="4" height="2" fill="#7ccd55"/><rect x="473" y="191" width="4" height="1" fill="#22a285"/><rect x="473" y="192" width="4" height="2" fill="#27808e"/><rect x="473" y="194" width="4" height="2" fill="#440154"/><rect x="473" y="196" width="4" height="2" fill="#440154"/><rect x="473" y="198" width="4" height="2" fill="#7ccd55"/><rect x="473" y="200" width="4" height="2" fill="#d8e8b0"/><rect x="473" y="202" width="4" height="2" fill="#d8e8b0"/><rect x="473" y="204" width="4" height="2" fill="#d8e8b0"/><rect x="473" y="206" width="4" height="2" fill="#eef4dd"/><rect x="477" y="177" width="3" height="2" fill="#d8e8b0"/><rect x="477" y="181" width="3" height="2" fill="#eef4dd"/><rect x="477" y="183" width="3" height="2" fill="#7ccd55"/><rect x="477" y="185" width="3" height="2" fill="#22a285"/><rect x="477" y="187" width="3" height="2" fill="#22a285"/><rect x="477" y="189" width="3" height="2" fill="#440154"/><rect x="477" y="191" width="3" height="1" fill="#22a285"/><rect x="477" y="192" width="3" height="2" fill="#b6da7c"/><rect x="477" y="194" width="3" height="2" fill="#eef4dd"/><rect x="477" y="196" width="3" height="2" fill="#d8e8b0"/><rect x="477" y="198" width="3" height="2" fill="#d8e8b0"/><rect x="477" y="200" width="3" height="2" fill="#eef4dd"/><rect x="480" y="177" width="4" height="2" fill="#d8e8b0"/><rect x="480" y="181" width="4" height="2" fill="#eef4dd"/><rect x="480" y="183" width="4" height="2" fill="#7ccd55"/><rect x="480" y="185" width="4" height="2" fill="#22a285"/><rect x="480" y="187" width="4" height="2" fill="#22a285"/><rect x="480" y="189" width="4" height="2" fill="#440154"/><rect x="480" y="191" width="4" height="1" fill="#22a285"/><rect x="480" y="192" width="4" height="2" fill="#b6da7c"/><rect x="480" y="194" width="4" height="2" fill="#eef4dd"/><rect x="480" y="196" width="4" height="2" fill="#d8e8b0"/><rect x="480" y="198" width="4" height="2" fill="#d8e8b0"/><rect x="480" y="200" width="4" height="2" fill="#eef4dd"/><rect x="484" y="177" width="3" height="2" fill="#d8e8b0"/><rect x="484" y="181" width="3" height="2" fill="#eef4dd"/><rect x="484" y="183" width="3" height="2" fill="#7ccd55"/><rect x="484" y="185" width="3" height="2" fill="#22a285"/><rect x="484" y="187" width="3" height="2" fill="#22a285"/><rect x="484" y="189" width="3" height="2" fill="#440154"/><rect x="484" y="191" width="3" height="1" fill="#22a285"/><rect x="484" y="192" width="3" height="2" fill="#b6da7c"/><rect x="484" y="194" width="3" height="2" fill="#eef4dd"/><rect x="484" y="196" width="3" height="2" fill="#d8e8b0"/><rect x="484" y="198" width="3" height="2" fill="#d8e8b0"/><rect x="484" y="200" width="3" height="2" fill="#eef4dd"/><rect x="487" y="177" width="4" height="2" fill="#d8e8b0"/><rect x="487" y="181" width="4" height="2" fill="#eef4dd"/><rect x="487" y="183" width="4" height="2" fill="#7ccd55"/><rect x="487" y="185" width="4" height="2" fill="#22a285"/><rect x="487" y="187" width="4" height="2" fill="#22a285"/><rect x="487" y="189" width="4" height="2" fill="#440154"/><rect x="487" y="191" width="4" height="1" fill="#22a285"/><rect x="487" y="192" width="4" height="2" fill="#b6da7c"/><rect x="487" y="194" width="4" height="2" fill="#eef4dd"/><rect x="487" y="196" width="4" height="2" fill="#d8e8b0"/><rect x="487" y="198" width="4" height="2" fill="#d8e8b0"/><rect x="487" y="200" width="4" height="2" fill="#eef4dd"/><rect x="491" y="173" width="3" height="2" fill="#eef4dd"/><rect x="491" y="177" width="3" height="2" fill="#d8e8b0"/><rect x="491" y="179" width="3" height="2" fill="#eef4dd"/><rect x="491" y="181" width="3" height="2" fill="#7ccd55"/><rect x="491" y="183" width="3" height="2" fill="#440154"/><rect x="491" y="185" width="3" height="2" fill="#440154"/><rect x="491" y="187" width="3" height="2" fill="#22a285"/><rect x="491" y="189" width="3" height="2" fill="#3db874"/><rect x="491" y="191" width="3" height="1" fill="#eef4dd"/><rect x="491" y="192" width="3" height="2" fill="#eef4dd"/><rect x="491" y="194" width="3" height="2" fill="#d8e8b0"/><rect x="491" y="196" width="3" height="2" fill="#d8e8b0"/><rect x="491" y="198" width="3" height="2" fill="#eef4dd"/><rect x="494" y="173" width="4" height="2" fill="#eef4dd"/><rect x="494" y="177" width="4" height="2" fill="#d8e8b0"/><rect x="494" y="179" width="4" height="2" fill="#eef4dd"/><rect x="494" y="181" width="4" height="2" fill="#7ccd55"/><rect x="494" y="183" width="4" height="2" fill="#440154"/><rect x="494" y="185" width="4" height="2" fill="#440154"/><rect x="494" y="187" width="4" height="2" fill="#22a285"/><rect x="494" y="189" width="4" height="2" fill="#3db874"/><rect x="494" y="191" width="4" height="1" fill="#eef4dd"/><rect x="494" y="192" width="4" height="2" fill="#eef4dd"/><rect x="494" y="194" width="4" height="2" fill="#d8e8b0"/><rect x="494" y="196" width="4" height="2" fill="#d8e8b0"/><rect x="494" y="198" width="4" height="2" fill="#eef4dd"/><rect x="498" y="173" width="3" height="2" fill="#eef4dd"/><rect x="498" y="177" width="3" height="2" fill="#d8e8b0"/><rect x="498" y="179" width="3" height="2" fill="#eef4dd"/><rect x="498" y="181" width="3" height="2" fill="#7ccd55"/><rect x="498" y="183" width="3" height="2" fill="#440154"/><rect x="498" y="185" width="3" height="2" fill="#440154"/><rect x="498" y="187" width="3" height="2" fill="#22a285"/><rect x="498" y="189" width="3" height="2" fill="#3db874"/><rect x="498" y="191" width="3" height="1" fill="#eef4dd"/><rect x="498" y="192" width="3" height="2" fill="#eef4dd"/><rect x="498" y="194" width="3" height="2" fill="#d8e8b0"/><rect x="498" y="196" width="3" height="2" fill="#d8e8b0"/><rect x="498" y="198" width="3" height="2" fill="#eef4dd"/><rect x="501" y="173" width="4" height="2" fill="#eef4dd"/><rect x="501" y="177" width="4" height="2" fill="#d8e8b0"/><rect x="501" y="179" width="4" height="2" fill="#eef4dd"/><rect x="501" y="181" width="4" height="2" fill="#7ccd55"/><rect x="501" y="183" width="4" height="2" fill="#440154"/><rect x="501" y="185" width="4" height="2" fill="#440154"/><rect x="501" y="187" width="4" height="2" fill="#22a285"/><rect x="501" y="189" width="4" height="2" fill="#3db874"/><rect x="501" y="191" width="4" height="1" fill="#eef4dd"/><rect x="501" y="192" width="4" height="2" fill="#eef4dd"/><rect x="501" y="194" width="4" height="2" fill="#d8e8b0"/><rect x="501" y="196" width="4" height="2" fill="#d8e8b0"/><rect x="501" y="198" width="4" height="2" fill="#eef4dd"/><rect x="505" y="168" width="3" height="1" fill="#eef4dd"/><rect x="505" y="169" width="3" height="2" fill="#d8e8b0"/><rect x="505" y="171" width="3" height="2" fill="#eef4dd"/><rect x="505" y="175" width="3" height="2" fill="#7ccd55"/><rect x="505" y="177" width="3" height="2" fill="#440154"/><rect x="505" y="179" width="3" height="2" fill="#3b5488"/><rect x="505" y="181" width="3" height="2" fill="#eef4dd"/><rect x="505" y="183" width="3" height="2" fill="#3db874"/><rect x="505" y="185" width="3" height="2" fill="#d8e8b0"/><rect x="505" y="187" width="3" height="2" fill="#eef4dd"/><rect x="505" y="189" width="3" height="2" fill="#eef4dd"/><rect x="508" y="168" width="4" height="1" fill="#eef4dd"/><rect x="508" y="169" width="4" height="2" fill="#d8e8b0"/><rect x="508" y="171" width="4" height="2" fill="#eef4dd"/><rect x="508" y="175" width="4" height="2" fill="#7ccd55"/><rect x="508" y="177" width="4" height="2" fill="#440154"/><rect x="508" y="179" width="4" height="2" fill="#3b5488"/><rect x="508" y="181" width="4" height="2" fill="#eef4dd"/><rect x="508" y="183" width="4" height="2" fill="#3db874"/><rect x="508" y="185" width="4" height="2" fill="#d8e8b0"/><rect x="508" y="187" width="4" height="2" fill="#eef4dd"/><rect x="508" y="189" width="4" height="2" fill="#eef4dd"/><rect x="512" y="168" width="3" height="1" fill="#eef4dd"/><rect x="512" y="169" width="3" height="2" fill="#d8e8b0"/><rect x="512" y="171" width="3" height="2" fill="#eef4dd"/><rect x="512" y="175" width="3" height="2" fill="#7ccd55"/><rect x="512" y="177" width="3" height="2" fill="#440154"/><rect x="512" y="179" width="3" height="2" fill="#3b5488"/><rect x="512" y="181" width="3" height="2" fill="#eef4dd"/><rect x="512" y="183" width="3" height="2" fill="#3db874"/><rect x="512" y="185" width="3" height="2" fill="#d8e8b0"/><rect x="512" y="187" width="3" height="2" fill="#eef4dd"/><rect x="512" y="189" width="3" height="2" fill="#eef4dd"/><rect x="515" y="168" width="3" height="1" fill="#eef4dd"/><rect x="515" y="169" width="3" height="2" fill="#d8e8b0"/><rect x="515" y="171" width="3" height="2" fill="#eef4dd"/><rect x="515" y="175" width="3" height="2" fill="#7ccd55"/><rect x="515" y="177" width="3" height="2" fill="#440154"/><rect x="515" y="179" width="3" height="2" fill="#3b5488"/><rect x="515" y="181" width="3" height="2" fill="#eef4dd"/><rect x="515" y="183" width="3" height="2" fill="#3db874"/><rect x="515" y="185" width="3" height="2" fill="#d8e8b0"/><rect x="515" y="187" width="3" height="2" fill="#eef4dd"/><rect x="515" y="189" width="3" height="2" fill="#eef4dd"/><rect x="518" y="168" width="4" height="1" fill="#eef4dd"/><rect x="518" y="169" width="4" height="2" fill="#d8e8b0"/><rect x="518" y="171" width="4" height="2" fill="#eef4dd"/><rect x="518" y="175" width="4" height="2" fill="#7ccd55"/><rect x="518" y="177" width="4" height="2" fill="#440154"/><rect x="518" y="179" width="4" height="2" fill="#3b5488"/><rect x="518" y="181" width="4" height="2" fill="#eef4dd"/><rect x="518" y="183" width="4" height="2" fill="#3db874"/><rect x="518" y="185" width="4" height="2" fill="#d8e8b0"/><rect x="518" y="187" width="4" height="2" fill="#eef4dd"/><rect x="518" y="189" width="4" height="2" fill="#eef4dd"/></g><g shape-rendering="crispEdges"><rect x="105" y="49" width="1" height="287" fill="#b0b0b0"/><rect x="121" y="49" width="1" height="287" fill="#b0b0b0"/><rect x="132" y="49" width="1" height="287" fill="#b0b0b0"/><rect x="141" y="49" width="1" height="287" fill="#b0b0b0"/><rect x="149" y="49" width="1" height="287" fill="#b0b0b0"/><rect x="155" y="49" width="1" height="287" fill="#b0b0b0"/><rect x="160" y="49" width="1" height="287" fill="#b0b0b0"/><rect x="165" y="49" width="1" height="287" fill="#b0b0b0"/><rect x="169" y="49" width="1" height="287" fill="#b0b0b0"/><rect x="197" y="49" width="1" height="287" fill="#b0b0b0"/><rect x="213" y="49" width="1" height="287" fill="#b0b0b0"/><rect x="224" y="49" width="1" height="287" fill="#b0b0b0"/><rect x="233" y="49" width="1" height="287" fill="#b0b0b0"/><rect x="241" y="49" width="1" height="287" fill="#b0b0b0"/><rect x="247" y="49" width="1" height="287" fill="#b0b0b0"/><rect x="252" y="49" width="1" height="287" fill="#b0b0b0"/><rect x="257" y="49" width="1" height="287" fill="#b0b0b0"/><rect x="261" y="49" width="1" height="287" fill="#b0b0b0"/><rect x="289" y="49" width="1" height="287" fill="#b0b0b0"/><rect x="305" y="49" width="1" height="287" fill="#b0b0b0"/><rect x="317" y="49" width="1" height="287" fill="#b0b0b0"/><rect x="326" y="49" width="1" height="287" fill="#b0b0b0"/><rect x="333" y="49" width="1" height="287" fill="#b0b0b0"/><rect x="339" y="49" width="1" height="287" fill="#b0b0b0"/><rect x="344" y="49" width="1" height="287" fill="#b0b0b0"/><rect x="349" y="49" width="1" height="287" fill="#b0b0b0"/><rect x="353" y="49" width="1" height="287" fill="#b0b0b0"/><rect x="381" y="49" width="1" height="287" fill="#b0b0b0"/><rect x="397" y="49" width="1" height="287" fill="#b0b0b0"/><rect x="409" y="49" width="1" height="287" fill="#b0b0b0"/><rect x="418" y="49" width="1" height="287" fill="#b0b0b0"/><rect x="425" y="49" width="1" height="287" fill="#b0b0b0"/><rect x="431" y="49" width="1" height="287" fill="#b0b0b0"/><rect x="437" y="49" width="1" height="287" fill="#b0b0b0"/><rect x="441" y="49" width="1" height="287" fill="#b0b0b0"/><rect x="445" y="49" width="1" height="287" fill="#b0b0b0"/><rect x="473" y="49" width="1" height="287" fill="#b0b0b0"/><rect x="489" y="49" width="1" height="287" fill="#b0b0b0"/><rect x="501" y="49" width="1" height="287" fill="#b0b0b0"/><rect x="510" y="49" width="1" height="287" fill="#b0b0b0"/><rect x="517" y="49" width="1" height="287" fill="#b0b0b0"/><rect x="523" y="49" width="1" height="287" fill="#b0b0b0"/><rect x="529" y="49" width="1" height="287" fill="#b0b0b0"/><rect x="533" y="49" width="1" height="287" fill="#b0b0b0"/><rect x="78" y="298" width="460" height="1" fill="#b0b0b0"/><rect x="78" y="259" width="460" height="1" fill="#b0b0b0"/><rect x="78" y="221" width="460" height="1" fill="#b0b0b0"/><rect x="78" y="182" width="460" height="1" fill="#b0b0b0"/><rect x="78" y="144" width="460" height="1" fill="#b0b0b0"/><rect x="78" y="106" width="460" height="1" fill="#b0b0b0"/><rect x="78" y="67" width="460" height="1" fill="#b0b0b0"/></g><polyline clip-path="url(#axclip)" points="104.54,221.13 108.01,219.67 111.48,218.21 114.94,216.75 118.41,215.04 121.88,210.77 125.35,207.68 128.82,208.21 132.28,208.78 135.75,209.66 139.22,210.55 142.69,211.08 146.16,211.23 149.62,211.38 153.09,211.10 156.56,210.76 160.03,210.43 163.50,210.06 166.96,209.69 170.43,209.32 173.90,208.95 177.37,208.58 180.84,207.80 184.30,206.94 187.77,206.07 191.24,205.36 194.71,204.66 198.18,203.94 201.64,202.85 205.11,201.79 208.58,201.59 212.05,201.31 215.52,201.08 218.98,201.46 222.45,201.84 225.92,202.22 229.39,202.60 232.86,203.00 236.32,203.40 239.79,203.80 243.26,204.20 246.73,204.60 250.20,205.32 253.66,206.65 257.13,207.23 260.60,207.32 264.07,206.53 267.54,205.13 271.00,203.73 274.47,201.76 277.94,199.56 281.41,197.37 284.88,195.20 288.34,193.03 291.81,191.33 295.28,190.06 298.75,188.78 302.22,187.55 305.68,187.05 309.15,186.55 312.62,186.22 316.09,185.94 319.56,185.67 323.02,185.05 326.49,183.60 329.96,181.75 333.43,181.37 336.90,183.53 340.36,185.66 343.83,189.96 347.30,195.46 350.77,202.11 354.24,212.66 357.70,220.36 361.17,226.83 364.64,232.39 368.11,234.18 371.58,234.60 375.04,235.02 378.51,235.97 381.98,236.92 385.45,236.27 388.92,235.60 392.38,234.07 395.85,232.35 399.32,230.11 402.79,227.88 406.26,225.64 409.72,223.45 413.19,221.46 416.66,218.78 420.13,215.95 423.60,214.62 427.06,213.29 430.53,212.02 434.00,210.77 437.47,209.18 440.94,207.13 444.40,205.43 447.87,203.89 451.34,202.53 454.81,201.44 458.28,200.29 461.74,198.29 465.21,196.37 468.68,194.60 472.15,193.92 475.62,192.89 479.08,188.89 482.55,188.78 486.02,188.67 489.49,188.56 492.96,186.05 496.42,186.05 499.89,186.05 503.36,185.22 506.83,179.14 510.30,179.14 513.76,179.14 517.23,179.14 520.70,179.40" fill="none" stroke="#000" stroke-width="2.08" stroke-linejoin="round" stroke-linecap="square"/><defs><clipPath id="axclip"><rect x="76.8" y="48" width="460.8" height="288"/></clipPath></defs><g clip-path="url(#axclip)" fill="none" stroke="#666666" stroke-width="2.78" stroke-linecap="square" stroke-linejoin="round"><polyline points="168.96,127.68 200.52,139.02 215.51,164.16 252.19,182.40 314.55,140.16 322.20,137.28 334.79,145.92 343.85,169.91 370.56,182.40 381.02,217.91 496.13,193.93 721.92,45.14"/><polyline points="168.96,274.56 190.20,272.06 224.45,272.06 252.19,276.87 269.73,266.30 296.16,237.40 319.50,222.91 325.54,222.90 332.83,238.08 353.28,266.40 360.58,271.19 371.08,263.29 384.66,292.81 399.33,307.19 413.48,312.00 431.16,312.00 445.84,307.20 462.72,307.18 492.98,311.98 517.15,306.01 629.76,243.61 721.92,150.01"/></g><g shape-rendering="crispEdges"><rect x="76" y="47" width="463" height="1" fill="#f1f1f1"/><rect x="76" y="49" width="463" height="1" fill="#f1f1f1"/><rect x="76" y="335" width="463" height="1" fill="#f1f1f1"/><rect x="76" y="337" width="463" height="1" fill="#f1f1f1"/><rect x="76" y="47" width="1" height="291" fill="#f1f1f1"/><rect x="78" y="47" width="1" height="291" fill="#f1f1f1"/><rect x="537" y="47" width="1" height="291" fill="#f1f1f1"/><rect x="539" y="47" width="1" height="291" fill="#f1f1f1"/><rect x="77" y="48" width="462" height="1" fill="#000"/><rect x="77" y="336" width="462" height="1" fill="#000"/><rect x="77" y="48" width="1" height="289" fill="#000"/><rect x="538" y="48" width="1" height="289" fill="#000"/><rect x="73" y="336" width="4" height="1" fill="#000"/><rect x="72" y="336" width="1" height="1" fill="#7f7f7f"/><rect x="73" y="298" width="4" height="1" fill="#000"/><rect x="72" y="298" width="1" height="1" fill="#7f7f7f"/><rect x="73" y="259" width="4" height="1" fill="#000"/><rect x="72" y="259" width="1" height="1" fill="#7f7f7f"/><rect x="73" y="221" width="4" height="1" fill="#000"/><rect x="72" y="221" width="1" height="1" fill="#7f7f7f"/><rect x="73" y="182" width="4" height="1" fill="#000"/><rect x="72" y="182" width="1" height="1" fill="#7f7f7f"/><rect x="73" y="144" width="4" height="1" fill="#000"/><rect x="72" y="144" width="1" height="1" fill="#7f7f7f"/><rect x="73" y="106" width="4" height="1" fill="#000"/><rect x="72" y="106" width="1" height="1" fill="#7f7f7f"/><rect x="73" y="67" width="4" height="1" fill="#000"/><rect x="72" y="67" width="1" height="1" fill="#7f7f7f"/><rect x="77" y="337" width="1" height="4" fill="#000"/><rect x="77" y="341" width="1" height="1" fill="#7f7f7f"/><rect x="169" y="337" width="1" height="4" fill="#000"/><rect x="169" y="341" width="1" height="1" fill="#7f7f7f"/><rect x="261" y="337" width="1" height="4" fill="#000"/><rect x="261" y="341" width="1" height="1" fill="#7f7f7f"/><rect x="353" y="337" width="1" height="4" fill="#000"/><rect x="353" y="341" width="1" height="1" fill="#7f7f7f"/><rect x="445" y="337" width="1" height="4" fill="#000"/><rect x="445" y="341" width="1" height="1" fill="#7f7f7f"/><rect x="538" y="337" width="1" height="4" fill="#000"/><rect x="538" y="341" width="1" height="1" fill="#7f7f7f"/><rect x="105" y="337" width="1" height="2" fill="#262626"/><rect x="105" y="339" width="1" height="1" fill="#949494"/><rect x="121" y="337" width="1" height="2" fill="#262626"/><rect x="121" y="339" width="1" height="1" fill="#949494"/><rect x="132" y="337" width="1" height="2" fill="#262626"/><rect x="132" y="339" width="1" height="1" fill="#949494"/><rect x="141" y="337" width="1" height="2" fill="#262626"/><rect x="141" y="339" width="1" height="1" fill="#949494"/><rect x="149" y="337" width="1" height="2" fill="#262626"/><rect x="149" y="339" width="1" height="1" fill="#949494"/><rect x="155" y="337" width="1" height="2" fill="#262626"/><rect x="155" y="339" width="1" height="1" fill="#949494"/><rect x="160" y="337" width="1" height="2" fill="#262626"/><rect x="160" y="339" width="1" height="1" fill="#949494"/><rect x="165" y="337" width="1" height="2" fill="#262626"/><rect x="165" y="339" width="1" height="1" fill="#949494"/><rect x="197" y="337" width="1" height="2" fill="#262626"/><rect x="197" y="339" width="1" height="1" fill="#949494"/><rect x="213" y="337" width="1" height="2" fill="#262626"/><rect x="213" y="339" width="1" height="1" fill="#949494"/><rect x="224" y="337" width="1" height="2" fill="#262626"/><rect x="224" y="339" width="1" height="1" fill="#949494"/><rect x="233" y="337" width="1" height="2" fill="#262626"/><rect x="233" y="339" width="1" height="1" fill="#949494"/><rect x="241" y="337" width="1" height="2" fill="#262626"/><rect x="241" y="339" width="1" height="1" fill="#949494"/><rect x="247" y="337" width="1" height="2" fill="#262626"/><rect x="247" y="339" width="1" height="1" fill="#949494"/><rect x="252" y="337" width="1" height="2" fill="#262626"/><rect x="252" y="339" width="1" height="1" fill="#949494"/><rect x="257" y="337" width="1" height="2" fill="#262626"/><rect x="257" y="339" width="1" height="1" fill="#949494"/><rect x="289" y="337" width="1" height="2" fill="#262626"/><rect x="289" y="339" width="1" height="1" fill="#949494"/><rect x="305" y="337" width="1" height="2" fill="#262626"/><rect x="305" y="339" width="1" height="1" fill="#949494"/><rect x="317" y="337" width="1" height="2" fill="#262626"/><rect x="317" y="339" width="1" height="1" fill="#949494"/><rect x="326" y="337" width="1" height="2" fill="#262626"/><rect x="326" y="339" width="1" height="1" fill="#949494"/><rect x="333" y="337" width="1" height="2" fill="#262626"/><rect x="333" y="339" width="1" height="1" fill="#949494"/><rect x="339" y="337" width="1" height="2" fill="#262626"/><rect x="339" y="339" width="1" height="1" fill="#949494"/><rect x="344" y="337" width="1" height="2" fill="#262626"/><rect x="344" y="339" width="1" height="1" fill="#949494"/><rect x="349" y="337" width="1" height="2" fill="#262626"/><rect x="349" y="339" width="1" height="1" fill="#949494"/><rect x="381" y="337" width="1" height="2" fill="#262626"/><rect x="381" y="339" width="1" height="1" fill="#949494"/><rect x="397" y="337" width="1" height="2" fill="#262626"/><rect x="397" y="339" width="1" height="1" fill="#949494"/><rect x="409" y="337" width="1" height="2" fill="#262626"/><rect x="409" y="339" width="1" height="1" fill="#949494"/><rect x="418" y="337" width="1" height="2" fill="#262626"/><rect x="418" y="339" width="1" height="1" fill="#949494"/><rect x="425" y="337" width="1" height="2" fill="#262626"/><rect x="425" y="339" width="1" height="1" fill="#949494"/><rect x="431" y="337" width="1" height="2" fill="#262626"/><rect x="431" y="339" width="1" height="1" fill="#949494"/><rect x="437" y="337" width="1" height="2" fill="#262626"/><rect x="437" y="339" width="1" height="1" fill="#949494"/><rect x="441" y="337" width="1" height="2" fill="#262626"/><rect x="441" y="339" width="1" height="1" fill="#949494"/><rect x="473" y="337" width="1" height="2" fill="#262626"/><rect x="473" y="339" width="1" height="1" fill="#949494"/><rect x="489" y="337" width="1" height="2" fill="#262626"/><rect x="489" y="339" width="1" height="1" fill="#949494"/><rect x="501" y="337" width="1" height="2" fill="#262626"/><rect x="501" y="339" width="1" height="1" fill="#949494"/><rect x="510" y="337" width="1" height="2" fill="#262626"/><rect x="510" y="339" width="1" height="1" fill="#949494"/><rect x="517" y="337" width="1" height="2" fill="#262626"/><rect x="517" y="339" width="1" height="1" fill="#949494"/><rect x="523" y="337" width="1" height="2" fill="#262626"/><rect x="523" y="339" width="1" height="1" fill="#949494"/><rect x="529" y="337" width="1" height="2" fill="#262626"/><rect x="529" y="339" width="1" height="1" fill="#949494"/><rect x="533" y="337" width="1" height="2" fill="#262626"/><rect x="533" y="339" width="1" height="1" fill="#949494"/></g><g shape-rendering="crispEdges"><rect x="567" y="178" width="7" height="1" fill="#440256"/><rect x="567" y="179" width="7" height="1" fill="#450559"/><rect x="567" y="180" width="7" height="1" fill="#46085c"/><rect x="567" y="181" width="7" height="1" fill="#460b5e"/><rect x="567" y="182" width="7" height="1" fill="#470e61"/><rect x="567" y="183" width="7" height="1" fill="#471164"/><rect x="567" y="184" width="7" height="1" fill="#481467"/><rect x="567" y="185" width="7" height="1" fill="#481769"/><rect x="567" y="186" width="7" height="1" fill="#481a6c"/><rect x="567" y="187" width="7" height="1" fill="#481c6e"/><rect x="567" y="188" width="7" height="1" fill="#481f70"/><rect x="567" y="189" width="7" height="1" fill="#482173"/><rect x="567" y="190" width="7" height="1" fill="#482475"/><rect x="567" y="191" width="7" height="1" fill="#482677"/><rect x="567" y="192" width="7" height="1" fill="#482878"/><rect x="567" y="193" width="7" height="1" fill="#472a7a"/><rect x="567" y="194" width="7" height="1" fill="#472d7b"/><rect x="567" y="195" width="7" height="1" fill="#472f7d"/><rect x="567" y="196" width="7" height="1" fill="#46327e"/><rect x="567" y="197" width="7" height="1" fill="#463480"/><rect x="567" y="198" width="7" height="1" fill="#453781"/><rect x="567" y="199" width="7" height="1" fill="#443983"/><rect x="567" y="200" width="7" height="1" fill="#443b84"/><rect x="567" y="201" width="7" height="1" fill="#433e85"/><rect x="567" y="202" width="7" height="1" fill="#424086"/><rect x="567" y="203" width="7" height="1" fill="#414287"/><rect x="567" y="204" width="7" height="1" fill="#404588"/><rect x="567" y="205" width="7" height="1" fill="#3f4788"/><rect x="567" y="206" width="7" height="1" fill="#3e4989"/><rect x="567" y="207" width="7" height="1" fill="#3e4a89"/><rect x="567" y="208" width="7" height="1" fill="#3d4d8a"/><rect x="567" y="209" width="7" height="1" fill="#3c4f8a"/><rect x="567" y="210" width="7" height="1" fill="#3b518b"/><rect x="567" y="211" width="7" height="1" fill="#3a538b"/><rect x="567" y="212" width="7" height="1" fill="#39558c"/><rect x="567" y="213" width="7" height="1" fill="#38588c"/><rect x="567" y="214" width="7" height="1" fill="#375a8c"/><rect x="567" y="215" width="7" height="1" fill="#365c8d"/><rect x="567" y="216" width="7" height="1" fill="#355e8d"/><rect x="567" y="217" width="7" height="1" fill="#34608d"/><rect x="567" y="218" width="7" height="1" fill="#33628d"/><rect x="567" y="219" width="7" height="1" fill="#32648e"/><rect x="567" y="220" width="7" height="1" fill="#31668e"/><rect x="567" y="221" width="7" height="1" fill="#31688e"/><rect x="567" y="222" width="7" height="1" fill="#30698e"/><rect x="567" y="223" width="7" height="1" fill="#2f6b8e"/><rect x="567" y="224" width="7" height="1" fill="#2e6d8e"/><rect x="567" y="225" width="7" height="1" fill="#2e6f8e"/><rect x="567" y="226" width="7" height="1" fill="#2d718e"/><rect x="567" y="227" width="7" height="1" fill="#2c728e"/><rect x="567" y="228" width="7" height="1" fill="#2b748e"/><rect x="567" y="229" width="7" height="1" fill="#2a768e"/><rect x="567" y="230" width="7" height="1" fill="#2a788e"/><rect x="567" y="231" width="7" height="1" fill="#297a8e"/><rect x="567" y="232" width="7" height="1" fill="#287c8e"/><rect x="567" y="233" width="7" height="1" fill="#277e8e"/><rect x="567" y="234" width="7" height="1" fill="#27808e"/><rect x="567" y="235" width="7" height="1" fill="#26828e"/><rect x="567" y="236" width="7" height="1" fill="#26828e"/><rect x="567" y="237" width="7" height="1" fill="#25848e"/><rect x="567" y="238" width="7" height="1" fill="#24868e"/><rect x="567" y="239" width="7" height="1" fill="#23888e"/><rect x="567" y="240" width="7" height="1" fill="#238a8d"/><rect x="567" y="241" width="7" height="1" fill="#228c8d"/><rect x="567" y="242" width="7" height="1" fill="#218e8d"/><rect x="567" y="243" width="7" height="1" fill="#21908d"/><rect x="567" y="244" width="7" height="1" fill="#20928c"/><rect x="567" y="245" width="7" height="1" fill="#20938c"/><rect x="567" y="246" width="7" height="1" fill="#1f958b"/><rect x="567" y="247" width="7" height="1" fill="#1f978b"/><rect x="567" y="248" width="7" height="1" fill="#1f998a"/><rect x="567" y="249" width="7" height="1" fill="#1e9b8a"/><rect x="567" y="250" width="7" height="1" fill="#1e9d89"/><rect x="567" y="251" width="7" height="1" fill="#1f9e89"/><rect x="567" y="252" width="7" height="1" fill="#1fa088"/><rect x="567" y="253" width="7" height="1" fill="#1fa187"/><rect x="567" y="254" width="7" height="1" fill="#20a386"/><rect x="567" y="255" width="7" height="1" fill="#21a585"/><rect x="567" y="256" width="7" height="1" fill="#22a785"/><rect x="567" y="257" width="7" height="1" fill="#23a983"/><rect x="567" y="258" width="7" height="1" fill="#25ab82"/><rect x="567" y="259" width="7" height="1" fill="#26ad81"/><rect x="567" y="260" width="7" height="1" fill="#28ae80"/><rect x="567" y="261" width="7" height="1" fill="#2ab07f"/><rect x="567" y="262" width="7" height="1" fill="#2db27d"/><rect x="567" y="263" width="7" height="1" fill="#2fb47c"/><rect x="567" y="264" width="7" height="1" fill="#32b67a"/><rect x="567" y="265" width="7" height="1" fill="#35b779"/><rect x="567" y="266" width="7" height="1" fill="#37b878"/><rect x="567" y="267" width="7" height="1" fill="#3aba76"/><rect x="567" y="268" width="7" height="1" fill="#3dbc74"/><rect x="567" y="269" width="7" height="1" fill="#40bd72"/><rect x="567" y="270" width="7" height="1" fill="#44bf70"/><rect x="567" y="271" width="7" height="1" fill="#48c16e"/><rect x="567" y="272" width="7" height="1" fill="#4cc26c"/><rect x="567" y="273" width="7" height="1" fill="#50c46a"/><rect x="567" y="274" width="7" height="1" fill="#54c568"/><rect x="567" y="275" width="7" height="1" fill="#58c765"/><rect x="567" y="276" width="7" height="1" fill="#5cc863"/><rect x="567" y="277" width="7" height="1" fill="#60ca60"/><rect x="567" y="278" width="7" height="1" fill="#65cb5e"/><rect x="567" y="279" width="7" height="1" fill="#69cd5b"/><rect x="567" y="280" width="7" height="1" fill="#6ece58"/><rect x="567" y="281" width="7" height="1" fill="#70cf57"/><rect x="567" y="282" width="7" height="1" fill="#75d054"/><rect x="567" y="283" width="7" height="1" fill="#7ad151"/><rect x="567" y="284" width="7" height="1" fill="#7fd34e"/><rect x="567" y="285" width="7" height="1" fill="#84d44b"/><rect x="567" y="286" width="7" height="1" fill="#89d548"/><rect x="567" y="287" width="7" height="1" fill="#8ed645"/><rect x="567" y="288" width="7" height="1" fill="#93d741"/><rect x="567" y="289" width="7" height="1" fill="#97d843"/><rect x="567" y="290" width="7" height="1" fill="#9ad947"/><rect x="567" y="291" width="7" height="1" fill="#9dd94c"/><rect x="567" y="292" width="7" height="1" fill="#9fda50"/><rect x="567" y="293" width="7" height="1" fill="#a2da54"/><rect x="567" y="294" width="7" height="1" fill="#a5db59"/><rect x="567" y="295" width="7" height="1" fill="#a8db5d"/><rect x="567" y="296" width="7" height="1" fill="#aadb61"/><rect x="567" y="297" width="7" height="1" fill="#addc66"/><rect x="567" y="298" width="7" height="1" fill="#b0dc6a"/><rect x="567" y="299" width="7" height="1" fill="#b2dd6f"/><rect x="567" y="300" width="7" height="1" fill="#b5dd73"/><rect x="567" y="301" width="7" height="1" fill="#b8de77"/><rect x="567" y="302" width="7" height="1" fill="#bbde7c"/><rect x="567" y="303" width="7" height="1" fill="#bddf80"/><rect x="567" y="304" width="7" height="1" fill="#c0df85"/><rect x="567" y="305" width="7" height="1" fill="#c3e089"/><rect x="567" y="306" width="7" height="1" fill="#c5e08d"/><rect x="567" y="307" width="7" height="1" fill="#c8e192"/><rect x="567" y="308" width="7" height="1" fill="#cbe196"/><rect x="567" y="309" width="7" height="1" fill="#cee19a"/><rect x="567" y="310" width="7" height="1" fill="#d0e29f"/><rect x="567" y="311" width="7" height="1" fill="#d3e2a3"/><rect x="567" y="312" width="7" height="1" fill="#d6e3a8"/><rect x="567" y="313" width="7" height="1" fill="#d8e4ab"/><rect x="567" y="314" width="7" height="1" fill="#d9e5af"/><rect x="567" y="315" width="7" height="1" fill="#dbe6b3"/><rect x="567" y="316" width="7" height="1" fill="#dde7b6"/><rect x="567" y="317" width="7" height="1" fill="#dee9ba"/><rect x="567" y="318" width="7" height="1" fill="#e0eabe"/><rect x="567" y="319" width="7" height="1" fill="#e2ebc1"/><rect x="567" y="320" width="7" height="1" fill="#e4ecc5"/><rect x="567" y="321" width="7" height="1" fill="#e5edc8"/><rect x="567" y="322" width="7" height="1" fill="#e7efcc"/><rect x="567" y="323" width="7" height="1" fill="#e9f0d0"/><rect x="567" y="324" width="7" height="1" fill="#eaf1d3"/><rect x="567" y="325" width="7" height="1" fill="#ecf2d7"/><rect x="567" y="326" width="7" height="1" fill="#eef3db"/><rect x="567" y="327" width="7" height="1" fill="#f0f4de"/><rect x="567" y="328" width="7" height="1" fill="#f1f6e2"/><rect x="567" y="329" width="7" height="1" fill="#f3f7e6"/><rect x="567" y="330" width="7" height="1" fill="#f5f8e9"/><rect x="567" y="331" width="7" height="1" fill="#f6f9ed"/><rect x="567" y="332" width="7" height="1" fill="#f8faf0"/><rect x="567" y="333" width="7" height="1" fill="#fafbf4"/><rect x="567" y="334" width="7" height="1" fill="#fcfdf8"/><rect x="567" y="335" width="7" height="1" fill="#fdfefb"/><rect x="566" y="177" width="9" height="1" fill="#000"/><rect x="566" y="336" width="9" height="1" fill="#000"/><rect x="566" y="177" width="1" height="160" fill="#000"/><rect x="574" y="177" width="1" height="160" fill="#000"/><rect x="581" y="177" width="5" height="1" fill="#000"/><rect x="586" y="177" width="1" height="1" fill="#7f7f7f"/><rect x="581" y="204" width="5" height="1" fill="#000"/><rect x="586" y="204" width="1" height="1" fill="#7f7f7f"/><rect x="581" y="230" width="5" height="1" fill="#000"/><rect x="586" y="230" width="1" height="1" fill="#7f7f7f"/><rect x="581" y="257" width="5" height="1" fill="#000"/><rect x="586" y="257" width="1" height="1" fill="#7f7f7f"/><rect x="581" y="283" width="5" height="1" fill="#000"/><rect x="586" y="283" width="1" height="1" fill="#7f7f7f"/><rect x="581" y="310" width="5" height="1" fill="#000"/><rect x="586" y="310" width="1" height="1" fill="#7f7f7f"/><rect x="581" y="336" width="5" height="1" fill="#000"/><rect x="586" y="336" width="1" height="1" fill="#7f7f7f"/></g><g shape-rendering="crispEdges"><rect x="116" y="380" width="408" height="7" fill="#008000"/><rect x="116" y="387" width="399" height="11" fill="#0000ff"/><rect x="95" y="378" width="451" height="1" fill="#f1f1f1"/><rect x="95" y="380" width="451" height="1" fill="#f1f1f1"/><rect x="95" y="397" width="451" height="1" fill="#f1f1f1"/><rect x="95" y="399" width="451" height="1" fill="#f1f1f1"/><rect x="95" y="378" width="1" height="22" fill="#f1f1f1"/><rect x="97" y="378" width="1" height="22" fill="#f1f1f1"/><rect x="543" y="378" width="1" height="22" fill="#f1f1f1"/><rect x="545" y="378" width="1" height="22" fill="#f1f1f1"/><rect x="116" y="380" width="408" height="7" fill="#008000"/><rect x="116" y="387" width="399" height="10" fill="#0000ff"/><rect x="96" y="379" width="449" height="1" fill="#000"/><rect x="96" y="398" width="449" height="1" fill="#000"/><rect x="96" y="379" width="1" height="20" fill="#000"/><rect x="544" y="379" width="1" height="20" fill="#000"/><rect x="116" y="399" width="1" height="4" fill="#000"/><rect x="116" y="403" width="1" height="1" fill="#7f7f7f"/><rect x="167" y="399" width="1" height="4" fill="#000"/><rect x="167" y="403" width="1" height="1" fill="#7f7f7f"/><rect x="218" y="399" width="1" height="4" fill="#000"/><rect x="218" y="403" width="1" height="1" fill="#7f7f7f"/><rect x="269" y="399" width="1" height="4" fill="#000"/><rect x="269" y="403" width="1" height="1" fill="#7f7f7f"/><rect x="320" y="399" width="1" height="4" fill="#000"/><rect x="320" y="403" width="1" height="1" fill="#7f7f7f"/><rect x="371" y="399" width="1" height="4" fill="#000"/><rect x="371" y="403" width="1" height="1" fill="#7f7f7f"/><rect x="422" y="399" width="1" height="4" fill="#000"/><rect x="422" y="403" width="1" height="1" fill="#7f7f7f"/><rect x="473" y="399" width="1" height="4" fill="#000"/><rect x="473" y="403" width="1" height="1" fill="#7f7f7f"/><rect x="524" y="399" width="1" height="4" fill="#000"/><rect x="524" y="403" width="1" height="1" fill="#7f7f7f"/></g><g font-family='"Liberation Sans", sans-serif' fill="#000"><text x="30.00" y="341.00" font-size="14.00" textLength="37.00" lengthAdjust="spacingAndGlyphs">&#8722;200</text><text x="29.00" y="303.00" font-size="14.00" textLength="37.00" lengthAdjust="spacingAndGlyphs">&#8722;180</text><text x="29.00" y="265.00" font-size="14.00" textLength="37.00" lengthAdjust="spacingAndGlyphs">&#8722;160</text><text x="30.00" y="226.00" font-size="14.00" textLength="37.00" lengthAdjust="spacingAndGlyphs">&#8722;140</text><text x="30.00" y="188.00" font-size="14.00" textLength="37.00" lengthAdjust="spacingAndGlyphs">&#8722;120</text><text x="30.00" y="150.00" font-size="14.00" textLength="37.00" lengthAdjust="spacingAndGlyphs">&#8722;100</text><text x="38.00" y="111.00" font-size="14.00" textLength="28.00" lengthAdjust="spacingAndGlyphs">&#8722;80</text><text x="38.00" y="73.00" font-size="14.00" textLength="28.00" lengthAdjust="spacingAndGlyphs">&#8722;60</text><text x="62.00" y="357.00" font-size="14.00" textLength="30.00" lengthAdjust="spacingAndGlyphs">0.01</text><text x="159.50" y="357.00" font-size="14.00" textLength="20.00" lengthAdjust="spacingAndGlyphs">0.1</text><text x="258.50" y="357.00" font-size="14.00" textLength="7.00" lengthAdjust="spacingAndGlyphs">1</text><text x="346.00" y="357.00" font-size="14.00" textLength="16.00" lengthAdjust="spacingAndGlyphs">10</text><text x="434.00" y="357.00" font-size="14.00" textLength="24.00" lengthAdjust="spacingAndGlyphs">100</text><text x="522.00" y="357.00" font-size="14.00" textLength="33.00" lengthAdjust="spacingAndGlyphs">1000</text><text x="274.00" y="375.50" font-size="14.00" textLength="66.00" lengthAdjust="spacingAndGlyphs">Period [s]</text><text x="591.50" y="342.00" font-size="14.00" textLength="8.00" lengthAdjust="spacingAndGlyphs">0</text><text x="591.50" y="315.00" font-size="14.00" textLength="8.00" lengthAdjust="spacingAndGlyphs">5</text><text x="592.00" y="289.00" font-size="14.00" textLength="16.00" lengthAdjust="spacingAndGlyphs">10</text><text x="592.50" y="262.00" font-size="14.00" textLength="14.00" lengthAdjust="spacingAndGlyphs">15</text><text x="591.00" y="236.00" font-size="14.00" textLength="18.00" lengthAdjust="spacingAndGlyphs">20</text><text x="591.00" y="209.00" font-size="14.00" textLength="17.00" lengthAdjust="spacingAndGlyphs">25</text><text x="591.50" y="183.00" font-size="14.00" textLength="16.00" lengthAdjust="spacingAndGlyphs">30</text><text x="624.50" y="206.00" font-size="14.00" textLength="23.00" lengthAdjust="spacingAndGlyphs" transform="rotate(-90 624.50 206.00)">[%]</text><text x="114.00" y="418.00" font-size="14.00" textLength="61.85" lengthAdjust="spacingAndGlyphs" text-anchor="end" transform="rotate(-30 114.00 418.00)">04-07 00</text><text x="164.50" y="418.00" font-size="14.00" textLength="60.92" lengthAdjust="spacingAndGlyphs" text-anchor="end" transform="rotate(-30 164.50 418.00)">04-07 03</text><text x="215.50" y="418.00" font-size="14.00" textLength="60.92" lengthAdjust="spacingAndGlyphs" text-anchor="end" transform="rotate(-30 215.50 418.00)">04-07 06</text><text x="267.00" y="417.50" font-size="14.00" textLength="61.85" lengthAdjust="spacingAndGlyphs" text-anchor="end" transform="rotate(-30 267.00 417.50)">04-07 09</text><text x="318.00" y="418.00" font-size="14.00" textLength="61.85" lengthAdjust="spacingAndGlyphs" text-anchor="end" transform="rotate(-30 318.00 418.00)">04-07 12</text><text x="368.50" y="418.00" font-size="14.00" textLength="60.92" lengthAdjust="spacingAndGlyphs" text-anchor="end" transform="rotate(-30 368.50 418.00)">04-07 15</text><text x="419.50" y="418.00" font-size="14.00" textLength="60.92" lengthAdjust="spacingAndGlyphs" text-anchor="end" transform="rotate(-30 419.50 418.00)">04-07 18</text><text x="471.00" y="418.00" font-size="14.00" textLength="61.85" lengthAdjust="spacingAndGlyphs" text-anchor="end" transform="rotate(-30 471.00 418.00)">04-07 21</text><text x="522.00" y="418.00" font-size="14.00" textLength="61.85" lengthAdjust="spacingAndGlyphs" text-anchor="end" transform="rotate(-30 522.00 418.00)">04-08 00</text><text x="16.50" y="269.50" font-size="14.00" textLength="50.00" lengthAdjust="spacingAndGlyphs" transform="rotate(-90 16.50 269.50)">Power [</text><text x="17.00" y="217.50" font-size="14.00" textLength="14.00" lengthAdjust="spacingAndGlyphs" transform="rotate(-90 17.00 217.50)"><tspan font-style="italic">m</tspan></text><text x="12.00" y="202.00" font-size="10.50" textLength="4.00" lengthAdjust="spacingAndGlyphs" transform="rotate(-90 12.00 202.00)">2</text><text x="18.50" y="196.50" font-size="14.00" textLength="12.00" lengthAdjust="spacingAndGlyphs" transform="rotate(-90 18.50 196.50)">/<tspan font-style="italic">s</tspan></text><text x="12.00" y="184.50" font-size="10.50" textLength="7.00" lengthAdjust="spacingAndGlyphs" transform="rotate(-90 12.00 184.50)">4</text><text x="16.50" y="177.00" font-size="14.00" textLength="61.00" lengthAdjust="spacingAndGlyphs" transform="rotate(-90 16.50 177.00)">/<tspan font-style="italic">Hz</tspan>] [dB]</text><text x="106.50" y="10.00" font-size="12.50" textLength="103.00" lengthAdjust="spacingAndGlyphs">BK.BK65.00.HHE</text><text x="223.50" y="10.00" font-size="12.50" textLength="71.00" lengthAdjust="spacingAndGlyphs">2022-04-07</text><text x="299.50" y="10.00" font-size="12.50" textLength="9.00" lengthAdjust="spacingAndGlyphs">--</text><text x="312.00" y="10.00" font-size="12.50" textLength="73.00" lengthAdjust="spacingAndGlyphs">2022-04-07</text><text x="393.00" y="10.00" font-size="12.50" textLength="41.00" lengthAdjust="spacingAndGlyphs">(46/46</text><text x="437.00" y="10.00" font-size="12.50" textLength="67.00" lengthAdjust="spacingAndGlyphs">segments)</text><text x="184.00" y="25.00" font-size="12.50" textLength="76.00" lengthAdjust="spacingAndGlyphs">sensor_type</text><text x="264.00" y="25.00" font-size="12.50" textLength="40.00" lengthAdjust="spacingAndGlyphs">MBB-2</text><text x="308.00" y="25.00" font-size="12.50" textLength="62.00" lengthAdjust="spacingAndGlyphs">sensor_sn</text><text x="374.00" y="25.00" font-size="12.50" textLength="57.00" lengthAdjust="spacingAndGlyphs">MBB2-BV</text><text x="177.00" y="39.50" font-size="12.50" textLength="103.00" lengthAdjust="spacingAndGlyphs">datalogger_type</text><text x="283.50" y="39.50" font-size="12.50" textLength="18.00" lengthAdjust="spacingAndGlyphs">Q8</text><text x="305.00" y="39.50" font-size="12.50" textLength="90.00" lengthAdjust="spacingAndGlyphs">datalogger_sn</text><text x="398.50" y="39.50" font-size="12.50" textLength="39.00" lengthAdjust="spacingAndGlyphs">Q8-BV</text></g></svg></body></html>
